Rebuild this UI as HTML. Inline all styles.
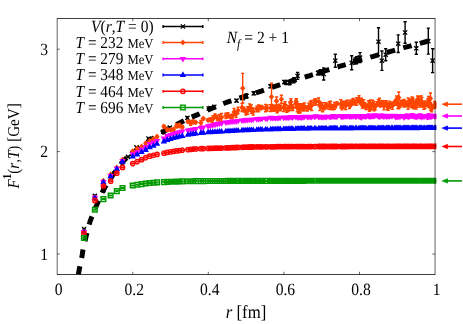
<!DOCTYPE html>
<html><head><meta charset="utf-8"><title>plot</title>
<style>html,body{margin:0;padding:0;background:#fff}svg{display:block;will-change:transform}text{font-family:"Liberation Serif",serif;fill:#000;text-rendering:geometricPrecision}</style>
</head><body>
<svg width="463" height="324" viewBox="0 0 463 324">
<rect width="463" height="324" fill="#fff"/>
<defs><clipPath id="c"><rect x="57.2" y="18.5" width="379.15000000000003" height="256.0"/></clipPath></defs>
<g clip-path="url(#c)">
<path d="M76.9 284 L77.6 279.7 L78.2 275.5 L78.9 271.5 L79.6 267.7 L80.3 264.3 L80.9 261.3 L81.6 258.3 L82.3 254.4 L82.9 250.1 L83.6 246.9 L84.3 244.1 L85 241.3 L85.6 238.4 L86.3 235.5 L87 232.7 L87.7 229.9 L88.3 227.3 L89 224.8 L89.7 222.7 L90.3 220.7 L91 219 L91.7 217.2 L92.4 215.5 L93 213.9 L93.7 212.2 L94.4 210.5 L95 208.9 L95.7 207.3 L96.4 205.8 L97.1 204.2 L97.7 202.6 L98.4 201.1 L99.1 199.6 L99.8 198 L100.4 196.5 L101.1 195 L101.8 193.5 L102.4 192.1 L103.1 190.7 L103.8 189.5 L104.5 188.2 L105.1 187 L105.8 185.9 L106.5 184.7 L107.1 183.6 L107.8 182.5 L108.5 181.5 L109.2 180.4 L109.8 179.4 L110.5 178.4 L111.2 177.4 L111.9 176.4 L112.5 175.4 L113.2 174.5 L113.9 173.5 L114.5 172.6 L115.2 171.7 L115.9 170.7 L116.6 169.8 L117.2 168.9 L117.9 167.9 L118.6 167 L119.2 166.1 L119.9 165.2 L120.6 164.4 L121.3 163.5 L121.9 162.7 L122.6 161.9 L123.3 161.2 L124 160.4 L124.6 159.7 L125.3 159.1 L126 158.5 L126.6 157.9 L127.3 157.4 L128 156.9 L128.7 156.4 L129.3 155.9 L130 155.4 L131 154.6 L134 152.3 L137.1 149.9 L140.1 147.6 L143.1 145.5 L146.2 143.4 L149.2 141.3 L152.2 139.1 L155.2 137 L158.3 134.9 L161.3 133 L164.3 131.1 L167.4 129.3 L170.4 127.6 L173.4 125.9 L176.5 124.4 L179.5 122.9 L182.5 121.4 L185.5 120 L188.6 118.6 L191.6 117.2 L194.6 115.9 L197.7 114.6 L200.7 113.2 L203.7 111.9 L206.8 110.6 L209.8 109.3 L212.8 108 L215.8 106.7 L218.9 105.4 L221.9 104.2 L224.9 103 L228 101.9 L231 100.8 L234 99.8 L237.1 98.8 L240.1 97.8 L243.1 96.8 L246.2 95.9 L249.2 95 L252.2 94 L255.2 93.1 L258.3 92.1 L261.3 91.1 L264.3 90 L267.4 88.9 L270.4 87.8 L273.4 86.8 L276.5 85.8 L279.5 84.8 L282.5 83.8 L285.5 82.9 L288.6 82 L291.6 81 L294.6 80.1 L297.7 79.2 L300.7 78.3 L303.7 77.4 L306.8 76.5 L309.8 75.6 L312.8 74.6 L315.8 73.7 L318.9 72.7 L321.9 71.8 L324.9 70.9 L328 69.9 L331 69 L334 68 L337.1 67.1 L340.1 66.2 L343.1 65.3 L346.2 64.4 L349.2 63.4 L352.2 62.5 L355.2 61.6 L358.3 60.7 L361.3 59.8 L364.3 58.9 L367.4 58 L370.4 57.1 L373.4 56.3 L376.5 55.4 L379.5 54.5 L382.5 53.7 L385.5 52.8 L388.6 52 L391.6 51.1 L394.6 50.3 L397.7 49.4 L400.7 48.6 L403.7 47.7 L406.8 46.9 L409.8 46.1 L412.8 45.2 L415.8 44.4 L418.9 43.6 L421.9 42.8 L424.9 42 L428 41.2 L431 40.4" fill="none" stroke="#000" stroke-width="5" stroke-dasharray="8.6 8.54" stroke-dashoffset="7.8"/>
<path d="M136.5 146.6V148.2M134.9 146.6h3.2M134.9 148.2h3.2M148.5 137.7V139.3M146.9 137.7h3.2M146.9 139.3h3.2M163.3 130.9V132.5M161.7 130.9h3.2M161.7 132.5h3.2M169.8 126.8V128.4M168.2 126.8h3.2M168.2 128.4h3.2M187.4 116.8V118.8M185.8 116.8h3.2M185.8 118.8h3.2M208.7 107.5V109.5M207.1 107.5h3.2M207.1 109.5h3.2M210.4 107V109M208.8 107h3.2M208.8 109h3.2M214.3 105.7V107.7M212.7 105.7h3.2M212.7 107.7h3.2M236.5 99.4V101.8M234.9 99.4h3.2M234.9 101.8h3.2M243 96.5V99.5M241.4 96.5h3.2M241.4 99.5h3.2M245.5 95V98M243.9 95h3.2M243.9 98h3.2M246.5 94V98M244.9 94h3.2M244.9 98h3.2M253.7 91.8V94.8M252.1 91.8h3.2M252.1 94.8h3.2M270.5 84.8V87.8M268.9 84.8h3.2M268.9 87.8h3.2M284.3 80.5V83.5M282.7 80.5h3.2M282.7 83.5h3.2M286 80.5V84.5M284.4 80.5h3.2M284.4 84.5h3.2M289.5 80.8V84.8M287.9 80.8h3.2M287.9 84.8h3.2M293.8 77.7V82.7M292.2 77.7h3.2M292.2 82.7h3.2M297.6 72.4V79.4M296 72.4h3.2M296 79.4h3.2M318 71V75M316.4 71h3.2M316.4 75h3.2M320.3 69.8V74.8M318.7 69.8h3.2M318.7 74.8h3.2M322 70V74M320.4 70h3.2M320.4 74h3.2M323.7 68V80M322.1 68h3.2M322.1 80h3.2M335.3 54.2V67.2M333.7 54.2h3.2M333.7 67.2h3.2M351.7 55.8V69.8M350.1 55.8h3.2M350.1 69.8h3.2M355 58V64M353.4 58h3.2M353.4 64h3.2M356.5 56.7V63.7M354.9 56.7h3.2M354.9 63.7h3.2M358 56.5V62.5M356.4 56.5h3.2M356.4 62.5h3.2M360 52.6V62.6M358.4 52.6h3.2M358.4 62.6h3.2M378.5 27.7V55.7M376.9 27.7h3.2M376.9 55.7h3.2M381.9 51V70.4M380.3 51h3.2M380.3 70.4h3.2M385.7 48.7V60.7M384.1 48.7h3.2M384.1 60.7h3.2M398.2 34.9V52.5M396.6 34.9h3.2M396.6 52.5h3.2M405.1 21.7V43.3M403.5 21.7h3.2M403.5 43.3h3.2M416.3 42.3V54.3M414.7 42.3h3.2M414.7 54.3h3.2M428.3 28.1V54.1M426.7 28.1h3.2M426.7 54.1h3.2M432.6 48.6V72.6M431 48.6h3.2M431 72.6h3.2M84.1 228.5V229.5M82.5 228.5h3.2M82.5 229.5h3.2M94.8 195.3V196.3M93.2 195.3h3.2M93.2 196.3h3.2M103.4 189.7V190.7M101.8 189.7h3.2M101.8 190.7h3.2M110.8 177.5V178.5M109.2 177.5h3.2M109.2 178.5h3.2M117 168.7V169.7M115.4 168.7h3.2M115.4 169.7h3.2M122.4 161.7V162.7M120.8 161.7h3.2M120.8 162.7h3.2M128 156.4V157.4M126.4 156.4h3.2M126.4 157.4h3.2M132.3 153.1V154.1M130.7 153.1h3.2M130.7 154.1h3.2" fill="none" stroke="#000" stroke-width="1.4"/>
<path d="M134.4 145.3l4.2 4.2M134.4 149.5l4.2 -4.2M146.4 136.4l4.2 4.2M146.4 140.6l4.2 -4.2M161.2 129.6l4.2 4.2M161.2 133.8l4.2 -4.2M167.7 125.5l4.2 4.2M167.7 129.7l4.2 -4.2M185.3 115.7l4.2 4.2M185.3 119.9l4.2 -4.2M206.6 106.4l4.2 4.2M206.6 110.6l4.2 -4.2M208.3 105.9l4.2 4.2M208.3 110.1l4.2 -4.2M212.2 104.6l4.2 4.2M212.2 108.8l4.2 -4.2M234.4 98.5l4.2 4.2M234.4 102.7l4.2 -4.2M240.9 95.9l4.2 4.2M240.9 100.1l4.2 -4.2M243.4 94.4l4.2 4.2M243.4 98.6l4.2 -4.2M244.4 93.9l4.2 4.2M244.4 98.1l4.2 -4.2M251.6 91.2l4.2 4.2M251.6 95.4l4.2 -4.2M268.4 84.2l4.2 4.2M268.4 88.4l4.2 -4.2M282.2 79.9l4.2 4.2M282.2 84.1l4.2 -4.2M283.9 80.4l4.2 4.2M283.9 84.6l4.2 -4.2M287.4 80.7l4.2 4.2M287.4 84.9l4.2 -4.2M291.7 78.1l4.2 4.2M291.7 82.3l4.2 -4.2M295.5 73.8l4.2 4.2M295.5 78l4.2 -4.2M315.9 70.9l4.2 4.2M315.9 75.1l4.2 -4.2M318.2 70.2l4.2 4.2M318.2 74.4l4.2 -4.2M319.9 69.9l4.2 4.2M319.9 74.1l4.2 -4.2M321.6 71.9l4.2 4.2M321.6 76.1l4.2 -4.2M333.2 58.6l4.2 4.2M333.2 62.8l4.2 -4.2M349.6 60.7l4.2 4.2M349.6 64.9l4.2 -4.2M352.9 58.9l4.2 4.2M352.9 63.1l4.2 -4.2M354.4 58.1l4.2 4.2M354.4 62.3l4.2 -4.2M355.9 57.4l4.2 4.2M355.9 61.6l4.2 -4.2M357.9 55.5l4.2 4.2M357.9 59.7l4.2 -4.2M376.4 39.6l4.2 4.2M376.4 43.8l4.2 -4.2M379.8 58.6l4.2 4.2M379.8 62.8l4.2 -4.2M383.6 52.6l4.2 4.2M383.6 56.8l4.2 -4.2M396.1 41.6l4.2 4.2M396.1 45.8l4.2 -4.2M403 30.4l4.2 4.2M403 34.6l4.2 -4.2M414.2 46.2l4.2 4.2M414.2 50.4l4.2 -4.2M426.2 39l4.2 4.2M426.2 43.2l4.2 -4.2M430.5 58.5l4.2 4.2M430.5 62.7l4.2 -4.2M82 226.9l4.2 4.2M82 231.1l4.2 -4.2M92.7 193.7l4.2 4.2M92.7 197.9l4.2 -4.2M101.3 188.1l4.2 4.2M101.3 192.3l4.2 -4.2M108.7 175.9l4.2 4.2M108.7 180.1l4.2 -4.2M114.9 167.1l4.2 4.2M114.9 171.3l4.2 -4.2M120.3 160.1l4.2 4.2M120.3 164.3l4.2 -4.2M125.9 154.8l4.2 4.2M125.9 159l4.2 -4.2M130.2 151.5l4.2 4.2M130.2 155.7l4.2 -4.2" fill="none" stroke="#000" stroke-width="1.3"/>
<path d="M83.9 230.9V232.1M82.3 230.9h3.2M82.3 232.1h3.2M94.9 196.6V197.8M93.3 196.6h3.2M93.3 197.8h3.2M103.4 180.1V181.3M101.8 180.1h3.2M101.8 181.3h3.2M110.6 174V175.1M109 174h3.2M109 175.1h3.2M116.8 166.7V168M115.2 166.7h3.2M115.2 168h3.2M122.5 159.3V160.2M120.9 159.3h3.2M120.9 160.2h3.2M132.7 150.5V151.7M131.1 150.5h3.2M131.1 151.7h3.2M137.2 147.8V149.1M135.6 147.8h3.2M135.6 149.1h3.2M141.6 145.9V147.1M140 145.9h3.2M140 147.1h3.2M145.7 142.5V144M144.1 142.5h3.2M144.1 144h3.2M149.6 140.3V141.6M148 140.3h3.2M148 141.6h3.2M153.4 138.2V139.9M151.8 138.2h3.2M151.8 139.9h3.2M157 135.5V137.8M155.4 135.5h3.2M155.4 137.8h3.2M163.9 125.2V127.8M162.3 125.2h3.2M162.3 127.8h3.2M167.2 128.4V131M165.6 128.4h3.2M165.6 131h3.2M170.4 129.1V130.7M168.8 129.1h3.2M168.8 130.7h3.2M173.5 127.9V131.1M171.9 127.9h3.2M171.9 131.1h3.2M176.5 123.9V127.9M174.9 123.9h3.2M174.9 127.9h3.2M179.4 123.5V127.5M177.8 123.5h3.2M177.8 127.5h3.2M182.3 125.4V128.9M180.7 125.4h3.2M180.7 128.9h3.2M187.9 120.7V122.6M186.3 120.7h3.2M186.3 122.6h3.2M190.6 120.5V125.3M189 120.5h3.2M189 125.3h3.2M193.2 120V123.7M191.6 120h3.2M191.6 123.7h3.2M195.8 121.8V122.8M194.2 121.8h3.2M194.2 122.8h3.2M200.9 120.4V125.1M199.3 120.4h3.2M199.3 125.1h3.2M203.3 117.5V119.8M201.7 117.5h3.2M201.7 119.8h3.2M208.1 118.8V121.5M206.5 118.8h3.2M206.5 121.5h3.2M210.4 117.9V121.6M208.8 117.9h3.2M208.8 121.6h3.2M212.7 115.9V122.7M211.1 115.9h3.2M211.1 122.7h3.2M215 113.9V118.3M213.4 113.9h3.2M213.4 118.3h3.2M217.3 115.4V120.9M215.7 115.4h3.2M215.7 120.9h3.2M219.5 114.5V122.5M217.9 114.5h3.2M217.9 122.5h3.2M221.6 113.4V121.3M220 113.4h3.2M220 121.3h3.2M225.9 113.2V118.5M224.3 113.2h3.2M224.3 118.5h3.2M228 112.6V117.7M226.4 112.6h3.2M226.4 117.7h3.2M230.1 114.7V118.1M228.5 114.7h3.2M228.5 118.1h3.2M232.1 114.3V118.8M230.5 114.3h3.2M230.5 118.8h3.2M234.1 108.5V115.2M232.5 108.5h3.2M232.5 115.2h3.2M236.1 110.7V117.5M234.5 110.7h3.2M234.5 117.5h3.2M238.1 107.1V113.5M236.5 107.1h3.2M236.5 113.5h3.2M242 103.4V111.6M240.4 103.4h3.2M240.4 111.6h3.2M243.9 107.2V111.8M242.3 107.2h3.2M242.3 111.8h3.2M245.8 109V115.1M244.2 109h3.2M244.2 115.1h3.2M247.7 106.7V114.4M246.1 106.7h3.2M246.1 114.4h3.2M249.6 103.9V111.3M248 103.9h3.2M248 111.3h3.2M251.4 104.9V113.3M249.8 104.9h3.2M249.8 113.3h3.2M253.2 108V115M251.6 108h3.2M251.6 115h3.2M256.8 106.1V111.7M255.2 106.1h3.2M255.2 111.7h3.2M258.6 104.9V111.9M257 104.9h3.2M257 111.9h3.2M260.4 105.5V109.7M258.8 105.5h3.2M258.8 109.7h3.2M262.1 106.1V109M260.5 106.1h3.2M260.5 109h3.2M265.5 104.4V111.8M263.9 104.4h3.2M263.9 111.8h3.2M267.2 104.9V111M265.6 104.9h3.2M265.6 111h3.2M270.6 104.7V111.5M269 104.7h3.2M269 111.5h3.2M272.3 105V107.8M270.7 105h3.2M270.7 107.8h3.2M273.9 106V111.4M272.3 106h3.2M272.3 111.4h3.2M275.6 105.2V110.2M274 105.2h3.2M274 110.2h3.2M277.2 108.3V112.8M275.6 108.3h3.2M275.6 112.8h3.2M278.8 105V106.7M277.2 105h3.2M277.2 106.7h3.2M280.4 105.2V110.8M278.8 105.2h3.2M278.8 110.8h3.2M283.6 103.5V111.5M282 103.5h3.2M282 111.5h3.2M285.1 101.7V108.6M283.5 101.7h3.2M283.5 108.6h3.2M286.7 107.4V112.4M285.1 107.4h3.2M285.1 112.4h3.2M288.2 105.4V111.6M286.6 105.4h3.2M286.6 111.6h3.2M289.8 102.7V110.5M288.2 102.7h3.2M288.2 110.5h3.2M291.3 106.9V107.6M289.7 106.9h3.2M289.7 107.6h3.2M292.8 104.6V110.6M291.2 104.6h3.2M291.2 110.6h3.2M295.8 100V107.2M294.2 100h3.2M294.2 107.2h3.2M297.3 104.1V111.7M295.7 104.1h3.2M295.7 111.7h3.2M298.8 103.7V113.3M297.2 103.7h3.2M297.2 113.3h3.2M300.2 104.3V112.8M298.6 104.3h3.2M298.6 112.8h3.2M301.7 103.8V110.6M300.1 103.8h3.2M300.1 110.6h3.2M303.1 104.3V111.1M301.5 104.3h3.2M301.5 111.1h3.2M304.6 102.9V110.7M303 102.9h3.2M303 110.7h3.2M307.4 105.9V111M305.8 105.9h3.2M305.8 111h3.2M308.9 103.3V109.4M307.3 103.3h3.2M307.3 109.4h3.2M310.3 101.2V109.2M308.7 101.2h3.2M308.7 109.2h3.2M311.7 100.4V110.5M310.1 100.4h3.2M310.1 110.5h3.2M314.5 99.3V105.2M312.9 99.3h3.2M312.9 105.2h3.2M315.8 98.6V104.7M314.2 98.6h3.2M314.2 104.7h3.2M318.6 98V104.6M317 98h3.2M317 104.6h3.2M319.9 101.6V110.5M318.3 101.6h3.2M318.3 110.5h3.2M321.3 102.6V108.8M319.7 102.6h3.2M319.7 108.8h3.2M322.6 102.6V111.7M321 102.6h3.2M321 111.7h3.2M324 105.6V109.9M322.4 105.6h3.2M322.4 109.9h3.2M325.3 102.8V108.6M323.7 102.8h3.2M323.7 108.6h3.2M326.6 103.1V108.9M325 103.1h3.2M325 108.9h3.2M329.2 101.6V109.4M327.6 101.6h3.2M327.6 109.4h3.2M330.5 101.2V109.5M328.9 101.2h3.2M328.9 109.5h3.2M331.8 104.8V107.9M330.2 104.8h3.2M330.2 107.9h3.2M333.1 105.4V109.8M331.5 105.4h3.2M331.5 109.8h3.2M334.4 102.5V109.4M332.8 102.5h3.2M332.8 109.4h3.2M335.7 102.9V107.8M334.1 102.9h3.2M334.1 107.8h3.2M337 102V105.2M335.4 102h3.2M335.4 105.2h3.2M340.8 99.7V108M339.2 99.7h3.2M339.2 108h3.2M342 102.7V109.9M340.4 102.7h3.2M340.4 109.9h3.2M343.3 101.2V108.4M341.7 101.2h3.2M341.7 108.4h3.2M344.5 101.5V106.7M342.9 101.5h3.2M342.9 106.7h3.2M345.7 101.3V109.6M344.1 101.3h3.2M344.1 109.6h3.2M347 100.2V106M345.4 100.2h3.2M345.4 106h3.2M349.4 100.1V108.5M347.8 100.1h3.2M347.8 108.5h3.2M350.6 102.5V106.9M349 102.5h3.2M349 106.9h3.2M351.8 100V104.4M350.2 100h3.2M350.2 104.4h3.2M353.1 98.5V105.1M351.5 98.5h3.2M351.5 105.1h3.2M355.4 100V104.8M353.8 100h3.2M353.8 104.8h3.2M356.6 97.7V105.2M355 97.7h3.2M355 105.2h3.2M359 95.8V102.5M357.4 95.8h3.2M357.4 102.5h3.2M360.2 99.6V104M358.6 99.6h3.2M358.6 104h3.2M361.4 98.2V104.6M359.8 98.2h3.2M359.8 104.6h3.2M362.5 102.7V108.2M360.9 102.7h3.2M360.9 108.2h3.2M363.7 99.7V107.8M362.1 99.7h3.2M362.1 107.8h3.2M364.8 102.8V107.8M363.2 102.8h3.2M363.2 107.8h3.2M366 104.2V109.5M364.4 104.2h3.2M364.4 109.5h3.2M368.3 100.9V109.5M366.7 100.9h3.2M366.7 109.5h3.2M369.4 100.6V111.3M367.8 100.6h3.2M367.8 111.3h3.2M370.6 99.9V110.1M369 99.9h3.2M369 110.1h3.2M371.7 103V109.4M370.1 103h3.2M370.1 109.4h3.2M372.8 100.3V106.9M371.2 100.3h3.2M371.2 106.9h3.2M374 101.6V110.9M372.4 101.6h3.2M372.4 110.9h3.2M375.1 104V110M373.5 104h3.2M373.5 110h3.2M377.3 101.7V106M375.7 101.7h3.2M375.7 106h3.2M378.4 99.8V106.2M376.8 99.8h3.2M376.8 106.2h3.2M379.5 98.3V105.4M377.9 98.3h3.2M377.9 105.4h3.2M380.6 102.6V107.1M379 102.6h3.2M379 107.1h3.2M381.7 101.1V104M380.1 101.1h3.2M380.1 104h3.2M382.8 100.9V104.2M381.2 100.9h3.2M381.2 104.2h3.2M383.9 102.4V109.9M382.3 102.4h3.2M382.3 109.9h3.2M386.1 100.6V105.3M384.5 100.6h3.2M384.5 105.3h3.2M387.2 103.5V109.5M385.6 103.5h3.2M385.6 109.5h3.2M388.2 103.7V110.4M386.6 103.7h3.2M386.6 110.4h3.2M389.3 101.1V108.5M387.7 101.1h3.2M387.7 108.5h3.2M391.5 102V107.5M389.9 102h3.2M389.9 107.5h3.2M392.5 102.2V109.4M390.9 102.2h3.2M390.9 109.4h3.2M394.6 100.9V105.3M393 100.9h3.2M393 105.3h3.2M395.7 99.7V105.1M394.1 99.7h3.2M394.1 105.1h3.2M396.7 99.9V104.1M395.1 99.9h3.2M395.1 104.1h3.2M397.8 100.2V108.6M396.2 100.2h3.2M396.2 108.6h3.2M398.8 102.6V108.8M397.2 102.6h3.2M397.2 108.8h3.2M399.9 102.6V107.4M398.3 102.6h3.2M398.3 107.4h3.2M400.9 100.2V105.7M399.3 100.2h3.2M399.3 105.7h3.2M403 100.1V105.8M401.4 100.1h3.2M401.4 105.8h3.2M404 99.5V107.1M402.4 99.5h3.2M402.4 107.1h3.2M405 103V106M403.4 103h3.2M403.4 106h3.2M406 100.9V105M404.4 100.9h3.2M404.4 105h3.2M407.1 101.3V106.7M405.5 101.3h3.2M405.5 106.7h3.2M408.1 98V109.2M406.5 98h3.2M406.5 109.2h3.2M409.1 99V107.1M407.5 99h3.2M407.5 107.1h3.2M411.1 100.5V106.4M409.5 100.5h3.2M409.5 106.4h3.2M412.1 100V107.6M410.5 100h3.2M410.5 107.6h3.2M413.1 98.3V108.6M411.5 98.3h3.2M411.5 108.6h3.2M414.1 101.8V107.5M412.5 101.8h3.2M412.5 107.5h3.2M415.1 103.5V109M413.5 103.5h3.2M413.5 109h3.2M416.1 100.3V109M414.5 100.3h3.2M414.5 109h3.2M417.1 100V107.2M415.5 100h3.2M415.5 107.2h3.2M419.1 96.8V104.3M417.5 96.8h3.2M417.5 104.3h3.2M420 101.8V107M418.4 101.8h3.2M418.4 107h3.2M421 95.8V105.8M419.4 95.8h3.2M419.4 105.8h3.2M422 97.4V107M420.4 97.4h3.2M420.4 107h3.2M423.9 102.1V109.4M422.3 102.1h3.2M422.3 109.4h3.2M424.9 100.9V108.5M423.3 100.9h3.2M423.3 108.5h3.2M426.8 103.6V105.7M425.2 103.6h3.2M425.2 105.7h3.2M427.8 98.9V106.3M426.2 98.9h3.2M426.2 106.3h3.2M428.8 101.6V107.4M427.2 101.6h3.2M427.2 107.4h3.2M429.7 100.8V107.9M428.1 100.8h3.2M428.1 107.9h3.2M430.7 102.8V110.4M429.1 102.8h3.2M429.1 110.4h3.2M431.6 106.1V111.7M430 106.1h3.2M430 111.7h3.2M432.6 105.1V108M431 105.1h3.2M431 108h3.2M434.5 101.5V108.4M432.9 101.5h3.2M432.9 108.4h3.2M435.4 102.1V106.8M433.8 102.1h3.2M433.8 106.8h3.2M436.3 102.4V107.9M434.7 102.4h3.2M434.7 107.9h3.2M398.7 92V103M397.1 92h3.2M397.1 103h3.2M396.5 96V103M394.9 96h3.2M394.9 103h3.2M430.5 93V104M428.9 93h3.2M428.9 104h3.2M428.5 96.5V104.5M426.9 96.5h3.2M426.9 104.5h3.2M417.5 96V103M415.9 96h3.2M415.9 103h3.2M412 97V103M410.4 97h3.2M410.4 103h3.2M242.7 73.4V103M241.1 73.4h3.2M241.1 103h3.2M271.5 83.3V110.3M269.9 83.3h3.2M269.9 110.3h3.2M276.5 97V105M274.9 97h3.2M274.9 105h3.2M281.4 95.2V103.2M279.8 95.2h3.2M279.8 103.2h3.2M290.9 98.8V104.8M289.3 98.8h3.2M289.3 104.8h3.2M296.4 98.8V104.8M294.8 98.8h3.2M294.8 104.8h3.2" fill="none" stroke="#ff4500" stroke-width="1.4"/>
<path d="M83.9 228.6l2.7 2.9l-2.7 2.9l-2.7 -2.9zM94.9 194.3l2.7 2.9l-2.7 2.9l-2.7 -2.9zM103.4 177.8l2.7 2.9l-2.7 2.9l-2.7 -2.9zM110.6 171.6l2.7 2.9l-2.7 2.9l-2.7 -2.9zM116.8 164.5l2.7 2.9l-2.7 2.9l-2.7 -2.9zM122.5 156.8l2.7 2.9l-2.7 2.9l-2.7 -2.9zM132.7 148.2l2.7 2.9l-2.7 2.9l-2.7 -2.9zM137.2 145.6l2.7 2.9l-2.7 2.9l-2.7 -2.9zM141.6 143.6l2.7 2.9l-2.7 2.9l-2.7 -2.9zM145.7 140.3l2.7 2.9l-2.7 2.9l-2.7 -2.9zM149.6 138l2.7 2.9l-2.7 2.9l-2.7 -2.9zM153.4 136.1l2.7 2.9l-2.7 2.9l-2.7 -2.9zM157 133.8l2.7 2.9l-2.7 2.9l-2.7 -2.9zM163.9 123.6l2.7 2.9l-2.7 2.9l-2.7 -2.9zM167.2 126.8l2.7 2.9l-2.7 2.9l-2.7 -2.9zM170.4 127l2.7 2.9l-2.7 2.9l-2.7 -2.9zM173.5 126.6l2.7 2.9l-2.7 2.9l-2.7 -2.9zM176.5 123l2.7 2.9l-2.7 2.9l-2.7 -2.9zM179.4 122.6l2.7 2.9l-2.7 2.9l-2.7 -2.9zM182.3 124.2l2.7 2.9l-2.7 2.9l-2.7 -2.9zM187.9 118.8l2.7 2.9l-2.7 2.9l-2.7 -2.9zM190.6 120l2.7 2.9l-2.7 2.9l-2.7 -2.9zM193.2 119l2.7 2.9l-2.7 2.9l-2.7 -2.9zM195.8 119.4l2.7 2.9l-2.7 2.9l-2.7 -2.9zM200.9 119.8l2.7 2.9l-2.7 2.9l-2.7 -2.9zM203.3 115.7l2.7 2.9l-2.7 2.9l-2.7 -2.9zM208.1 117.2l2.7 2.9l-2.7 2.9l-2.7 -2.9zM210.4 116.8l2.7 2.9l-2.7 2.9l-2.7 -2.9zM212.7 116.4l2.7 2.9l-2.7 2.9l-2.7 -2.9zM215 113.2l2.7 2.9l-2.7 2.9l-2.7 -2.9zM217.3 115.3l2.7 2.9l-2.7 2.9l-2.7 -2.9zM219.5 115.6l2.7 2.9l-2.7 2.9l-2.7 -2.9zM221.6 114.4l2.7 2.9l-2.7 2.9l-2.7 -2.9zM225.9 112.9l2.7 2.9l-2.7 2.9l-2.7 -2.9zM228 112.3l2.7 2.9l-2.7 2.9l-2.7 -2.9zM230.1 113.5l2.7 2.9l-2.7 2.9l-2.7 -2.9zM232.1 113.6l2.7 2.9l-2.7 2.9l-2.7 -2.9zM234.1 109l2.7 2.9l-2.7 2.9l-2.7 -2.9zM236.1 111.2l2.7 2.9l-2.7 2.9l-2.7 -2.9zM238.1 107.4l2.7 2.9l-2.7 2.9l-2.7 -2.9zM242 104.6l2.7 2.9l-2.7 2.9l-2.7 -2.9zM243.9 106.6l2.7 2.9l-2.7 2.9l-2.7 -2.9zM245.8 109.1l2.7 2.9l-2.7 2.9l-2.7 -2.9zM247.7 107.6l2.7 2.9l-2.7 2.9l-2.7 -2.9zM249.6 104.7l2.7 2.9l-2.7 2.9l-2.7 -2.9zM251.4 106.2l2.7 2.9l-2.7 2.9l-2.7 -2.9zM253.2 108.6l2.7 2.9l-2.7 2.9l-2.7 -2.9zM256.8 106l2.7 2.9l-2.7 2.9l-2.7 -2.9zM258.6 105.5l2.7 2.9l-2.7 2.9l-2.7 -2.9zM260.4 104.7l2.7 2.9l-2.7 2.9l-2.7 -2.9zM262.1 104.6l2.7 2.9l-2.7 2.9l-2.7 -2.9zM265.5 105.2l2.7 2.9l-2.7 2.9l-2.7 -2.9zM267.2 105l2.7 2.9l-2.7 2.9l-2.7 -2.9zM270.6 105.2l2.7 2.9l-2.7 2.9l-2.7 -2.9zM272.3 103.5l2.7 2.9l-2.7 2.9l-2.7 -2.9zM273.9 105.8l2.7 2.9l-2.7 2.9l-2.7 -2.9zM275.6 104.8l2.7 2.9l-2.7 2.9l-2.7 -2.9zM277.2 107.6l2.7 2.9l-2.7 2.9l-2.7 -2.9zM278.8 102.9l2.7 2.9l-2.7 2.9l-2.7 -2.9zM280.4 105.1l2.7 2.9l-2.7 2.9l-2.7 -2.9zM283.6 104.6l2.7 2.9l-2.7 2.9l-2.7 -2.9zM285.1 102.2l2.7 2.9l-2.7 2.9l-2.7 -2.9zM286.7 107l2.7 2.9l-2.7 2.9l-2.7 -2.9zM288.2 105.6l2.7 2.9l-2.7 2.9l-2.7 -2.9zM289.8 103.7l2.7 2.9l-2.7 2.9l-2.7 -2.9zM291.3 104.3l2.7 2.9l-2.7 2.9l-2.7 -2.9zM292.8 104.7l2.7 2.9l-2.7 2.9l-2.7 -2.9zM295.8 100.7l2.7 2.9l-2.7 2.9l-2.7 -2.9zM297.3 105l2.7 2.9l-2.7 2.9l-2.7 -2.9zM298.8 105.6l2.7 2.9l-2.7 2.9l-2.7 -2.9zM300.2 105.6l2.7 2.9l-2.7 2.9l-2.7 -2.9zM301.7 104.3l2.7 2.9l-2.7 2.9l-2.7 -2.9zM303.1 104.8l2.7 2.9l-2.7 2.9l-2.7 -2.9zM304.6 103.9l2.7 2.9l-2.7 2.9l-2.7 -2.9zM307.4 105.5l2.7 2.9l-2.7 2.9l-2.7 -2.9zM308.9 103.4l2.7 2.9l-2.7 2.9l-2.7 -2.9zM310.3 102.3l2.7 2.9l-2.7 2.9l-2.7 -2.9zM311.7 102.5l2.7 2.9l-2.7 2.9l-2.7 -2.9zM314.5 99.4l2.7 2.9l-2.7 2.9l-2.7 -2.9zM315.8 98.7l2.7 2.9l-2.7 2.9l-2.7 -2.9zM318.6 98.4l2.7 2.9l-2.7 2.9l-2.7 -2.9zM319.9 103.1l2.7 2.9l-2.7 2.9l-2.7 -2.9zM321.3 102.8l2.7 2.9l-2.7 2.9l-2.7 -2.9zM322.6 104.3l2.7 2.9l-2.7 2.9l-2.7 -2.9zM324 104.8l2.7 2.9l-2.7 2.9l-2.7 -2.9zM325.3 102.8l2.7 2.9l-2.7 2.9l-2.7 -2.9zM326.6 103.1l2.7 2.9l-2.7 2.9l-2.7 -2.9zM329.2 102.6l2.7 2.9l-2.7 2.9l-2.7 -2.9zM330.5 102.4l2.7 2.9l-2.7 2.9l-2.7 -2.9zM331.8 103.4l2.7 2.9l-2.7 2.9l-2.7 -2.9zM333.1 104.7l2.7 2.9l-2.7 2.9l-2.7 -2.9zM334.4 103.1l2.7 2.9l-2.7 2.9l-2.7 -2.9zM335.7 102.4l2.7 2.9l-2.7 2.9l-2.7 -2.9zM337 100.7l2.7 2.9l-2.7 2.9l-2.7 -2.9zM340.8 101l2.7 2.9l-2.7 2.9l-2.7 -2.9zM342 103.4l2.7 2.9l-2.7 2.9l-2.7 -2.9zM343.3 101.9l2.7 2.9l-2.7 2.9l-2.7 -2.9zM344.5 101.2l2.7 2.9l-2.7 2.9l-2.7 -2.9zM345.7 102.6l2.7 2.9l-2.7 2.9l-2.7 -2.9zM347 100.2l2.7 2.9l-2.7 2.9l-2.7 -2.9zM349.4 101.4l2.7 2.9l-2.7 2.9l-2.7 -2.9zM350.6 101.8l2.7 2.9l-2.7 2.9l-2.7 -2.9zM351.8 99.3l2.7 2.9l-2.7 2.9l-2.7 -2.9zM353.1 98.9l2.7 2.9l-2.7 2.9l-2.7 -2.9zM355.4 99.5l2.7 2.9l-2.7 2.9l-2.7 -2.9zM356.6 98.6l2.7 2.9l-2.7 2.9l-2.7 -2.9zM359 96.2l2.7 2.9l-2.7 2.9l-2.7 -2.9zM360.2 98.9l2.7 2.9l-2.7 2.9l-2.7 -2.9zM361.4 98.5l2.7 2.9l-2.7 2.9l-2.7 -2.9zM362.5 102.6l2.7 2.9l-2.7 2.9l-2.7 -2.9zM363.7 100.9l2.7 2.9l-2.7 2.9l-2.7 -2.9zM364.8 102.4l2.7 2.9l-2.7 2.9l-2.7 -2.9zM366 104l2.7 2.9l-2.7 2.9l-2.7 -2.9zM368.3 102.3l2.7 2.9l-2.7 2.9l-2.7 -2.9zM369.4 103.1l2.7 2.9l-2.7 2.9l-2.7 -2.9zM370.6 102.1l2.7 2.9l-2.7 2.9l-2.7 -2.9zM371.7 103.3l2.7 2.9l-2.7 2.9l-2.7 -2.9zM372.8 100.7l2.7 2.9l-2.7 2.9l-2.7 -2.9zM374 103.4l2.7 2.9l-2.7 2.9l-2.7 -2.9zM375.1 104.1l2.7 2.9l-2.7 2.9l-2.7 -2.9zM377.3 101l2.7 2.9l-2.7 2.9l-2.7 -2.9zM378.4 100.1l2.7 2.9l-2.7 2.9l-2.7 -2.9zM379.5 99l2.7 2.9l-2.7 2.9l-2.7 -2.9zM380.6 102l2.7 2.9l-2.7 2.9l-2.7 -2.9zM381.7 99.7l2.7 2.9l-2.7 2.9l-2.7 -2.9zM382.8 99.6l2.7 2.9l-2.7 2.9l-2.7 -2.9zM383.9 103.2l2.7 2.9l-2.7 2.9l-2.7 -2.9zM386.1 100l2.7 2.9l-2.7 2.9l-2.7 -2.9zM387.2 103.6l2.7 2.9l-2.7 2.9l-2.7 -2.9zM388.2 104.2l2.7 2.9l-2.7 2.9l-2.7 -2.9zM389.3 101.9l2.7 2.9l-2.7 2.9l-2.7 -2.9zM391.5 101.9l2.7 2.9l-2.7 2.9l-2.7 -2.9zM392.5 102.9l2.7 2.9l-2.7 2.9l-2.7 -2.9zM394.6 100.2l2.7 2.9l-2.7 2.9l-2.7 -2.9zM395.7 99.5l2.7 2.9l-2.7 2.9l-2.7 -2.9zM396.7 99.1l2.7 2.9l-2.7 2.9l-2.7 -2.9zM397.8 101.5l2.7 2.9l-2.7 2.9l-2.7 -2.9zM398.8 102.8l2.7 2.9l-2.7 2.9l-2.7 -2.9zM399.9 102.1l2.7 2.9l-2.7 2.9l-2.7 -2.9zM400.9 100.1l2.7 2.9l-2.7 2.9l-2.7 -2.9zM403 100.1l2.7 2.9l-2.7 2.9l-2.7 -2.9zM404 100.4l2.7 2.9l-2.7 2.9l-2.7 -2.9zM405 101.6l2.7 2.9l-2.7 2.9l-2.7 -2.9zM406 100.1l2.7 2.9l-2.7 2.9l-2.7 -2.9zM407.1 101.1l2.7 2.9l-2.7 2.9l-2.7 -2.9zM408.1 100.7l2.7 2.9l-2.7 2.9l-2.7 -2.9zM409.1 100.1l2.7 2.9l-2.7 2.9l-2.7 -2.9zM411.1 100.5l2.7 2.9l-2.7 2.9l-2.7 -2.9zM412.1 100.9l2.7 2.9l-2.7 2.9l-2.7 -2.9zM413.1 100.6l2.7 2.9l-2.7 2.9l-2.7 -2.9zM414.1 101.8l2.7 2.9l-2.7 2.9l-2.7 -2.9zM415.1 103.4l2.7 2.9l-2.7 2.9l-2.7 -2.9zM416.1 101.7l2.7 2.9l-2.7 2.9l-2.7 -2.9zM417.1 100.7l2.7 2.9l-2.7 2.9l-2.7 -2.9zM419.1 97.7l2.7 2.9l-2.7 2.9l-2.7 -2.9zM420 101.5l2.7 2.9l-2.7 2.9l-2.7 -2.9zM421 97.9l2.7 2.9l-2.7 2.9l-2.7 -2.9zM422 99.3l2.7 2.9l-2.7 2.9l-2.7 -2.9zM423.9 102.9l2.7 2.9l-2.7 2.9l-2.7 -2.9zM424.9 101.8l2.7 2.9l-2.7 2.9l-2.7 -2.9zM426.8 101.7l2.7 2.9l-2.7 2.9l-2.7 -2.9zM427.8 99.7l2.7 2.9l-2.7 2.9l-2.7 -2.9zM428.8 101.6l2.7 2.9l-2.7 2.9l-2.7 -2.9zM429.7 101.4l2.7 2.9l-2.7 2.9l-2.7 -2.9zM430.7 103.7l2.7 2.9l-2.7 2.9l-2.7 -2.9zM431.6 106l2.7 2.9l-2.7 2.9l-2.7 -2.9zM432.6 103.6l2.7 2.9l-2.7 2.9l-2.7 -2.9zM434.5 102l2.7 2.9l-2.7 2.9l-2.7 -2.9zM435.4 101.6l2.7 2.9l-2.7 2.9l-2.7 -2.9zM436.3 102.3l2.7 2.9l-2.7 2.9l-2.7 -2.9zM398.7 94.6l2.7 2.9l-2.7 2.9l-2.7 -2.9zM396.5 96.6l2.7 2.9l-2.7 2.9l-2.7 -2.9zM430.5 95.6l2.7 2.9l-2.7 2.9l-2.7 -2.9zM428.5 97.6l2.7 2.9l-2.7 2.9l-2.7 -2.9zM417.5 96.6l2.7 2.9l-2.7 2.9l-2.7 -2.9zM412 97.1l2.7 2.9l-2.7 2.9l-2.7 -2.9zM242.7 85.3l2.7 2.9l-2.7 2.9l-2.7 -2.9zM271.5 93.9l2.7 2.9l-2.7 2.9l-2.7 -2.9zM276.5 98.1l2.7 2.9l-2.7 2.9l-2.7 -2.9zM281.4 96.3l2.7 2.9l-2.7 2.9l-2.7 -2.9zM290.9 98.9l2.7 2.9l-2.7 2.9l-2.7 -2.9zM296.4 98.9l2.7 2.9l-2.7 2.9l-2.7 -2.9z" fill="#ff4500" stroke="none"/>
<path d="M83.9 231.5V232.1M82.3 231.5h3.2M82.3 232.1h3.2M94.9 197.4V198M93.3 197.4h3.2M93.3 198h3.2M103.4 181.5V182.1M101.8 181.5h3.2M101.8 182.1h3.2M110.6 175.6V176.2M109 175.6h3.2M109 176.2h3.2M116.8 168.1V168.7M115.2 168.1h3.2M115.2 168.7h3.2M122.5 160.6V161.2M120.9 160.6h3.2M120.9 161.2h3.2M132.7 153.8V154.4M131.1 153.8h3.2M131.1 154.4h3.2M137.2 151.7V152.3M135.6 151.7h3.2M135.6 152.3h3.2M141.6 149.2V149.8M140 149.2h3.2M140 149.8h3.2M145.7 146.5V147.1M144.1 146.5h3.2M144.1 147.1h3.2M149.6 143.7V144.3M148 143.7h3.2M148 144.3h3.2M153.4 142.1V142.7M151.8 142.1h3.2M151.8 142.7h3.2M157 140.6V141.2M155.4 140.6h3.2M155.4 141.2h3.2M163.9 138.2V138.8M162.3 138.2h3.2M162.3 138.8h3.2M167.2 135.7V136.3M165.6 135.7h3.2M165.6 136.3h3.2M170.4 134.6V135.2M168.8 134.6h3.2M168.8 135.2h3.2M173.5 133.6V134.2M171.9 133.6h3.2M171.9 134.2h3.2M176.5 132.7V133.3M174.9 132.7h3.2M174.9 133.3h3.2M179.4 131.8V132.4M177.8 131.8h3.2M177.8 132.4h3.2M182.3 131.1V131.7M180.7 131.1h3.2M180.7 131.7h3.2M187.9 130V130.6M186.3 130h3.2M186.3 130.6h3.2M190.6 129.5V130.1M189 129.5h3.2M189 130.1h3.2M193.2 129V129.6M191.6 129h3.2M191.6 129.6h3.2M195.8 128.5V129.1M194.2 128.5h3.2M194.2 129.1h3.2M200.9 127.5V128.1M199.3 127.5h3.2M199.3 128.1h3.2M203.3 127V127.6M201.7 127h3.2M201.7 127.6h3.2M208.1 125.9V126.5M206.5 125.9h3.2M206.5 126.5h3.2M210.4 125.3V126M208.8 125.3h3.2M208.8 126h3.2M212.7 124.7V125.4M211.1 124.7h3.2M211.1 125.4h3.2M215 124.3V124.9M213.4 124.3h3.2M213.4 124.9h3.2M217.3 123.6V124.5M215.7 123.6h3.2M215.7 124.5h3.2M219.5 123.2V124M217.9 123.2h3.2M217.9 124h3.2M221.6 122.7V123.5M220 122.7h3.2M220 123.5h3.2M225.9 122V122.9M224.3 122h3.2M224.3 122.9h3.2M228 121.6V122.6M226.4 121.6h3.2M226.4 122.6h3.2M230.1 121.4V122.2M228.5 121.4h3.2M228.5 122.2h3.2M232.1 121V121.9M230.5 121h3.2M230.5 121.9h3.2M234.1 120.8V121.7M232.5 120.8h3.2M232.5 121.7h3.2M236.1 120.6V121.8M234.5 120.6h3.2M234.5 121.8h3.2M238.1 120.4V121.2M236.5 120.4h3.2M236.5 121.2h3.2M242 119.7V120.9M240.4 119.7h3.2M240.4 120.9h3.2M243.9 119.7V120.7M242.3 119.7h3.2M242.3 120.7h3.2M245.8 119.6V120.5M244.2 119.6h3.2M244.2 120.5h3.2M247.7 119V120.3M246.1 119h3.2M246.1 120.3h3.2M249.6 119V120.1M248 119h3.2M248 120.1h3.2M251.4 119.1V120M249.8 119.1h3.2M249.8 120h3.2M253.2 118.8V119.9M251.6 118.8h3.2M251.6 119.9h3.2M256.8 118.3V119.7M255.2 118.3h3.2M255.2 119.7h3.2M258.6 118.3V119.8M257 118.3h3.2M257 119.8h3.2M260.4 118.1V119.2M258.8 118.1h3.2M258.8 119.2h3.2M262.1 118V119.3M260.5 118h3.2M260.5 119.3h3.2M265.5 117.6V119M263.9 117.6h3.2M263.9 119h3.2M267.2 117.9V119M265.6 117.9h3.2M265.6 119h3.2M270.6 117V118.4M269 117h3.2M269 118.4h3.2M272.3 117.2V118.5M270.7 117.2h3.2M270.7 118.5h3.2M273.9 117.2V118.4M272.3 117.2h3.2M272.3 118.4h3.2M275.6 117.3V118.5M274 117.3h3.2M274 118.5h3.2M277.2 117.1V118.5M275.6 117.1h3.2M275.6 118.5h3.2M278.8 117.2V118.6M277.2 117.2h3.2M277.2 118.6h3.2M280.4 116.7V117.9M278.8 116.7h3.2M278.8 117.9h3.2M283.6 117V118.3M282 117h3.2M282 118.3h3.2M285.1 116.5V118.3M283.5 116.5h3.2M283.5 118.3h3.2M286.7 116.5V118.1M285.1 116.5h3.2M285.1 118.1h3.2M288.2 116.6V118.4M286.6 116.6h3.2M286.6 118.4h3.2M289.8 116.2V118.1M288.2 116.2h3.2M288.2 118.1h3.2M291.3 116V117.7M289.7 116h3.2M289.7 117.7h3.2M292.8 116V118.4M291.2 116h3.2M291.2 118.4h3.2M295.8 116.2V117.5M294.2 116.2h3.2M294.2 117.5h3.2M297.3 116.1V117.9M295.7 116.1h3.2M295.7 117.9h3.2M298.8 116.5V117.9M297.2 116.5h3.2M297.2 117.9h3.2M300.2 116V118.3M298.6 116h3.2M298.6 118.3h3.2M301.7 116.3V118.6M300.1 116.3h3.2M300.1 118.6h3.2M303.1 116.6V117.4M301.5 116.6h3.2M301.5 117.4h3.2M304.6 116V117.2M303 116h3.2M303 117.2h3.2M307.4 115.8V117.7M305.8 115.8h3.2M305.8 117.7h3.2M308.9 115.7V117.7M307.3 115.7h3.2M307.3 117.7h3.2M310.3 115.6V117.6M308.7 115.6h3.2M308.7 117.6h3.2M311.7 116.1V117.8M310.1 116.1h3.2M310.1 117.8h3.2M314.5 115.6V117.6M312.9 115.6h3.2M312.9 117.6h3.2M315.8 115.2V117.3M314.2 115.2h3.2M314.2 117.3h3.2M318.6 116V117.8M317 116h3.2M317 117.8h3.2M319.9 115.5V117.8M318.3 115.5h3.2M318.3 117.8h3.2M321.3 116.4V117.1M319.7 116.4h3.2M319.7 117.1h3.2M322.6 115.6V117.7M321 115.6h3.2M321 117.7h3.2M324 116.1V117.4M322.4 116.1h3.2M322.4 117.4h3.2M325.3 115.4V117.8M323.7 115.4h3.2M323.7 117.8h3.2M326.6 116V117.8M325 116h3.2M325 117.8h3.2M329.2 115.9V117.4M327.6 115.9h3.2M327.6 117.4h3.2M330.5 115.6V117.7M328.9 115.6h3.2M328.9 117.7h3.2M331.8 115.9V117.3M330.2 115.9h3.2M330.2 117.3h3.2M333.1 115.3V116.8M331.5 115.3h3.2M331.5 116.8h3.2M334.4 115.9V117M332.8 115.9h3.2M332.8 117h3.2M335.7 115.4V117.3M334.1 115.4h3.2M334.1 117.3h3.2M337 115.4V117.6M335.4 115.4h3.2M335.4 117.6h3.2M340.8 114.7V117.3M339.2 114.7h3.2M339.2 117.3h3.2M342 115.9V117.9M340.4 115.9h3.2M340.4 117.9h3.2M343.3 115.1V117.7M341.7 115.1h3.2M341.7 117.7h3.2M344.5 114.9V117M342.9 114.9h3.2M342.9 117h3.2M345.7 114.8V116.8M344.1 114.8h3.2M344.1 116.8h3.2M347 115.1V117.5M345.4 115.1h3.2M345.4 117.5h3.2M349.4 114.9V117.7M347.8 114.9h3.2M347.8 117.7h3.2M350.6 115.1V117M349 115.1h3.2M349 117h3.2M351.8 115.4V117.3M350.2 115.4h3.2M350.2 117.3h3.2M353.1 115.1V117.1M351.5 115.1h3.2M351.5 117.1h3.2M355.4 115.4V117.6M353.8 115.4h3.2M353.8 117.6h3.2M356.6 115.2V116.8M355 115.2h3.2M355 116.8h3.2M359 114.8V117.7M357.4 114.8h3.2M357.4 117.7h3.2M360.2 115.6V117.6M358.6 115.6h3.2M358.6 117.6h3.2M361.4 115.9V118.4M359.8 115.9h3.2M359.8 118.4h3.2M362.5 115V116.7M360.9 115h3.2M360.9 116.7h3.2M363.7 114.8V117.3M362.1 114.8h3.2M362.1 117.3h3.2M364.8 114.7V117.2M363.2 114.7h3.2M363.2 117.2h3.2M366 115.5V117.5M364.4 115.5h3.2M364.4 117.5h3.2M368.3 114V117.6M366.7 114h3.2M366.7 117.6h3.2M369.4 114.8V117.3M367.8 114.8h3.2M367.8 117.3h3.2M370.6 114.4V117.9M369 114.4h3.2M369 117.9h3.2M371.7 114.3V117.3M370.1 114.3h3.2M370.1 117.3h3.2M372.8 114.9V116.8M371.2 114.9h3.2M371.2 116.8h3.2M374 115V117M372.4 115h3.2M372.4 117h3.2M375.1 114V116.7M373.5 114h3.2M373.5 116.7h3.2M377.3 114.4V116.8M375.7 114.4h3.2M375.7 116.8h3.2M378.4 114.8V117.2M376.8 114.8h3.2M376.8 117.2h3.2M379.5 115.1V117.3M377.9 115.1h3.2M377.9 117.3h3.2M380.6 115.5V116.6M379 115.5h3.2M379 116.6h3.2M381.7 114.3V116.5M380.1 114.3h3.2M380.1 116.5h3.2M382.8 115.5V116.3M381.2 115.5h3.2M381.2 116.3h3.2M383.9 115.1V117.8M382.3 115.1h3.2M382.3 117.8h3.2M386.1 115.4V117.3M384.5 115.4h3.2M384.5 117.3h3.2M387.2 115.1V117.1M385.6 115.1h3.2M385.6 117.1h3.2M388.2 114.6V116.9M386.6 114.6h3.2M386.6 116.9h3.2M389.3 115V117.7M387.7 115h3.2M387.7 117.7h3.2M391.5 115.1V116.6M389.9 115.1h3.2M389.9 116.6h3.2M392.5 115V116.2M390.9 115h3.2M390.9 116.2h3.2M394.6 114.9V116.6M393 114.9h3.2M393 116.6h3.2M395.7 116.2V117.2M394.1 116.2h3.2M394.1 117.2h3.2M396.7 115.3V117.1M395.1 115.3h3.2M395.1 117.1h3.2M397.8 114.7V118.5M396.2 114.7h3.2M396.2 118.5h3.2M398.8 115V116.7M397.2 115h3.2M397.2 116.7h3.2M399.9 114.9V118M398.3 114.9h3.2M398.3 118h3.2M400.9 115V116.5M399.3 115h3.2M399.3 116.5h3.2M403 114.6V117.4M401.4 114.6h3.2M401.4 117.4h3.2M404 116V118.3M402.4 116h3.2M402.4 118.3h3.2M405 115.1V117.7M403.4 115.1h3.2M403.4 117.7h3.2M406 114.3V117.3M404.4 114.3h3.2M404.4 117.3h3.2M407.1 114V118M405.5 114h3.2M405.5 118h3.2M408.1 114.8V117.6M406.5 114.8h3.2M406.5 117.6h3.2M409.1 115.2V117.9M407.5 115.2h3.2M407.5 117.9h3.2M411.1 114.9V116.7M409.5 114.9h3.2M409.5 116.7h3.2M412.1 113.7V116.8M410.5 113.7h3.2M410.5 116.8h3.2M413.1 114.7V117.1M411.5 114.7h3.2M411.5 117.1h3.2M414.1 114.4V117.7M412.5 114.4h3.2M412.5 117.7h3.2M415.1 114.8V117.4M413.5 114.8h3.2M413.5 117.4h3.2M416.1 114.6V118.6M414.5 114.6h3.2M414.5 118.6h3.2M417.1 115.7V116.7M415.5 115.7h3.2M415.5 116.7h3.2M419.1 115.2V117.6M417.5 115.2h3.2M417.5 117.6h3.2M420 113.9V117.2M418.4 113.9h3.2M418.4 117.2h3.2M421 115.2V117.6M419.4 115.2h3.2M419.4 117.6h3.2M422 116V117.9M420.4 116h3.2M420.4 117.9h3.2M423.9 115.2V117.6M422.3 115.2h3.2M422.3 117.6h3.2M424.9 115.4V116.9M423.3 115.4h3.2M423.3 116.9h3.2M426.8 114.7V117.4M425.2 114.7h3.2M425.2 117.4h3.2M427.8 114.5V119.1M426.2 114.5h3.2M426.2 119.1h3.2M428.8 113.8V117.3M427.2 113.8h3.2M427.2 117.3h3.2M429.7 115.1V116.8M428.1 115.1h3.2M428.1 116.8h3.2M430.7 115.3V117.2M429.1 115.3h3.2M429.1 117.2h3.2M431.6 115.2V117.5M430 115.2h3.2M430 117.5h3.2M432.6 114.1V117.5M431 114.1h3.2M431 117.5h3.2M434.5 115.2V117.1M432.9 115.2h3.2M432.9 117.1h3.2M435.4 114.9V116.9M433.8 114.9h3.2M433.8 116.9h3.2M436.3 114.4V117.7M434.7 114.4h3.2M434.7 117.7h3.2" fill="none" stroke="#ff00ff" stroke-width="1.4"/>
<path d="M80.7 229.9h6.4l-3.2 5.6zM91.7 195.8h6.4l-3.2 5.6zM100.2 179.9h6.4l-3.2 5.6zM107.4 174h6.4l-3.2 5.6zM113.6 166.5h6.4l-3.2 5.6zM119.3 159h6.4l-3.2 5.6zM129.5 152.2h6.4l-3.2 5.6zM134 150.1h6.4l-3.2 5.6zM138.4 147.6h6.4l-3.2 5.6zM142.5 144.9h6.4l-3.2 5.6zM146.4 142.1h6.4l-3.2 5.6zM150.2 140.5h6.4l-3.2 5.6zM153.8 139h6.4l-3.2 5.6zM160.7 136.6h6.4l-3.2 5.6zM164 134.1h6.4l-3.2 5.6zM167.2 133h6.4l-3.2 5.6zM170.3 132h6.4l-3.2 5.6zM173.3 131.1h6.4l-3.2 5.6zM176.2 130.2h6.4l-3.2 5.6zM179.1 129.5h6.4l-3.2 5.6zM184.7 128.4h6.4l-3.2 5.6zM187.4 127.9h6.4l-3.2 5.6zM190 127.4h6.4l-3.2 5.6zM192.6 126.9h6.4l-3.2 5.6zM197.7 125.9h6.4l-3.2 5.6zM200.1 125.4h6.4l-3.2 5.6zM204.9 124.3h6.4l-3.2 5.6zM207.2 123.7h6.4l-3.2 5.6zM209.5 123.2h6.4l-3.2 5.6zM211.8 122.7h6.4l-3.2 5.6zM214.1 122.1h6.4l-3.2 5.6zM216.3 121.7h6.4l-3.2 5.6zM218.4 121.2h6.4l-3.2 5.6zM222.7 120.5h6.4l-3.2 5.6zM224.8 120.2h6.4l-3.2 5.6zM226.9 119.9h6.4l-3.2 5.6zM228.9 119.6h6.4l-3.2 5.6zM230.9 119.3h6.4l-3.2 5.6zM232.9 119.3h6.4l-3.2 5.6zM234.9 118.9h6.4l-3.2 5.6zM238.8 118.4h6.4l-3.2 5.6zM240.7 118.3h6.4l-3.2 5.6zM242.6 118.1h6.4l-3.2 5.6zM244.5 117.8h6.4l-3.2 5.6zM246.4 117.7h6.4l-3.2 5.6zM248.2 117.7h6.4l-3.2 5.6zM250 117.4h6.4l-3.2 5.6zM253.6 117.1h6.4l-3.2 5.6zM255.4 117.2h6.4l-3.2 5.6zM257.2 116.7h6.4l-3.2 5.6zM258.9 116.7h6.4l-3.2 5.6zM262.3 116.4h6.4l-3.2 5.6zM264 116.6h6.4l-3.2 5.6zM267.4 115.8h6.4l-3.2 5.6zM269.1 116h6.4l-3.2 5.6zM270.7 115.9h6.4l-3.2 5.6zM272.4 116h6.4l-3.2 5.6zM274 115.9h6.4l-3.2 5.6zM275.6 116h6.4l-3.2 5.6zM277.2 115.4h6.4l-3.2 5.6zM280.4 115.7h6.4l-3.2 5.6zM281.9 115.5h6.4l-3.2 5.6zM283.5 115.4h6.4l-3.2 5.6zM285 115.6h6.4l-3.2 5.6zM286.6 115.2h6.4l-3.2 5.6zM288.1 115h6.4l-3.2 5.6zM289.6 115.3h6.4l-3.2 5.6zM292.6 115h6.4l-3.2 5.6zM294.1 115.1h6.4l-3.2 5.6zM295.6 115.3h6.4l-3.2 5.6zM297 115.2h6.4l-3.2 5.6zM298.5 115.5h6.4l-3.2 5.6zM299.9 115.1h6.4l-3.2 5.6zM301.4 114.7h6.4l-3.2 5.6zM304.2 114.8h6.4l-3.2 5.6zM305.7 114.8h6.4l-3.2 5.6zM307.1 114.7h6.4l-3.2 5.6zM308.5 115h6.4l-3.2 5.6zM311.3 114.7h6.4l-3.2 5.6zM312.6 114.3h6.4l-3.2 5.6zM315.4 115h6.4l-3.2 5.6zM316.7 114.7h6.4l-3.2 5.6zM318.1 114.8h6.4l-3.2 5.6zM319.4 114.8h6.4l-3.2 5.6zM320.8 114.9h6.4l-3.2 5.6zM322.1 114.7h6.4l-3.2 5.6zM323.4 115h6.4l-3.2 5.6zM326 114.7h6.4l-3.2 5.6zM327.3 114.7h6.4l-3.2 5.6zM328.6 114.7h6.4l-3.2 5.6zM329.9 114.1h6.4l-3.2 5.6zM331.2 114.5h6.4l-3.2 5.6zM332.5 114.5h6.4l-3.2 5.6zM333.8 114.6h6.4l-3.2 5.6zM337.6 114.1h6.4l-3.2 5.6zM338.8 115h6.4l-3.2 5.6zM340.1 114.5h6.4l-3.2 5.6zM341.3 114.1h6.4l-3.2 5.6zM342.5 113.9h6.4l-3.2 5.6zM343.8 114.4h6.4l-3.2 5.6zM346.2 114.4h6.4l-3.2 5.6zM347.4 114.2h6.4l-3.2 5.6zM348.6 114.4h6.4l-3.2 5.6zM349.9 114.2h6.4l-3.2 5.6zM352.2 114.6h6.4l-3.2 5.6zM353.4 114.1h6.4l-3.2 5.6zM355.8 114.4h6.4l-3.2 5.6zM357 114.7h6.4l-3.2 5.6zM358.2 115.3h6.4l-3.2 5.6zM359.3 114h6.4l-3.2 5.6zM360.5 114.2h6.4l-3.2 5.6zM361.6 114h6.4l-3.2 5.6zM362.8 114.6h6.4l-3.2 5.6zM365.1 113.9h6.4l-3.2 5.6zM366.2 114.1h6.4l-3.2 5.6zM367.4 114.3h6.4l-3.2 5.6zM368.5 113.9h6.4l-3.2 5.6zM369.6 113.9h6.4l-3.2 5.6zM370.8 114.1h6.4l-3.2 5.6zM371.9 113.4h6.4l-3.2 5.6zM374.1 113.7h6.4l-3.2 5.6zM375.2 114.1h6.4l-3.2 5.6zM376.3 114.3h6.4l-3.2 5.6zM377.4 114.2h6.4l-3.2 5.6zM378.5 113.5h6.4l-3.2 5.6zM379.6 114h6.4l-3.2 5.6zM380.7 114.6h6.4l-3.2 5.6zM382.9 114.5h6.4l-3.2 5.6zM384 114.2h6.4l-3.2 5.6zM385 113.8h6.4l-3.2 5.6zM386.1 114.5h6.4l-3.2 5.6zM388.3 113.9h6.4l-3.2 5.6zM389.3 113.7h6.4l-3.2 5.6zM391.4 113.8h6.4l-3.2 5.6zM392.5 114.8h6.4l-3.2 5.6zM393.5 114.3h6.4l-3.2 5.6zM394.6 114.7h6.4l-3.2 5.6zM395.6 114h6.4l-3.2 5.6zM396.7 114.6h6.4l-3.2 5.6zM397.7 113.9h6.4l-3.2 5.6zM399.8 114.1h6.4l-3.2 5.6zM400.8 115.3h6.4l-3.2 5.6zM401.8 114.5h6.4l-3.2 5.6zM402.8 113.9h6.4l-3.2 5.6zM403.9 114.1h6.4l-3.2 5.6zM404.9 114.3h6.4l-3.2 5.6zM405.9 114.7h6.4l-3.2 5.6zM407.9 113.9h6.4l-3.2 5.6zM408.9 113.3h6.4l-3.2 5.6zM409.9 114h6.4l-3.2 5.6zM410.9 114.1h6.4l-3.2 5.6zM411.9 114.2h6.4l-3.2 5.6zM412.9 114.7h6.4l-3.2 5.6zM413.9 114.3h6.4l-3.2 5.6zM415.9 114.5h6.4l-3.2 5.6zM416.8 113.6h6.4l-3.2 5.6zM417.8 114.5h6.4l-3.2 5.6zM418.8 115.1h6.4l-3.2 5.6zM420.7 114.5h6.4l-3.2 5.6zM421.7 114.2h6.4l-3.2 5.6zM423.6 114.2h6.4l-3.2 5.6zM424.6 114.9h6.4l-3.2 5.6zM425.6 113.7h6.4l-3.2 5.6zM426.5 114.1h6.4l-3.2 5.6zM427.5 114.3h6.4l-3.2 5.6zM428.4 114.4h6.4l-3.2 5.6zM429.4 113.9h6.4l-3.2 5.6zM431.3 114.2h6.4l-3.2 5.6zM432.2 114h6.4l-3.2 5.6zM433.1 114.2h6.4l-3.2 5.6z" fill="#ff00ff" stroke="none"/>
<path d="M83.9 231.9V232.5M82.3 231.9h3.2M82.3 232.5h3.2M94.9 197.9V198.5M93.3 197.9h3.2M93.3 198.5h3.2M103.4 182V182.6M101.8 182h3.2M101.8 182.6h3.2M110.6 176.2V176.8M109 176.2h3.2M109 176.8h3.2M116.8 168.9V169.5M115.2 168.9h3.2M115.2 169.5h3.2M122.5 161.6V162.2M120.9 161.6h3.2M120.9 162.2h3.2M132.7 156.3V156.9M131.1 156.3h3.2M131.1 156.9h3.2M137.2 154.3V154.9M135.6 154.3h3.2M135.6 154.9h3.2M141.6 151.9V152.5M140 151.9h3.2M140 152.5h3.2M145.7 149.7V150.3M144.1 149.7h3.2M144.1 150.3h3.2M149.6 147.1V147.7M148 147.1h3.2M148 147.7h3.2M153.4 145.6V146.2M151.8 145.6h3.2M151.8 146.2h3.2M157 143.6V144.2M155.4 143.6h3.2M155.4 144.2h3.2M163.9 141.3V141.9M162.3 141.3h3.2M162.3 141.9h3.2M167.2 139.7V140.3M165.6 139.7h3.2M165.6 140.3h3.2M170.4 138.7V139.3M168.8 138.7h3.2M168.8 139.3h3.2M173.5 137.8V138.4M171.9 137.8h3.2M171.9 138.4h3.2M176.5 137V137.6M174.9 137h3.2M174.9 137.6h3.2M179.4 136.3V136.9M177.8 136.3h3.2M177.8 136.9h3.2M182.3 135.7V136.3M180.7 135.7h3.2M180.7 136.3h3.2M187.9 134.6V135.2M186.3 134.6h3.2M186.3 135.2h3.2M190.6 134.1V134.7M189 134.1h3.2M189 134.7h3.2M193.2 133.7V134.3M191.6 133.7h3.2M191.6 134.3h3.2M195.8 133.3V133.9M194.2 133.3h3.2M194.2 133.9h3.2M200.9 132.7V133.3M199.3 132.7h3.2M199.3 133.3h3.2M203.3 132.5V133.1M201.7 132.5h3.2M201.7 133.1h3.2M208.1 132.1V132.7M206.5 132.1h3.2M206.5 132.7h3.2M210.4 132V132.6M208.8 132h3.2M208.8 132.6h3.2M212.7 131.8V132.4M211.1 131.8h3.2M211.1 132.4h3.2M215 131.7V132.3M213.4 131.7h3.2M213.4 132.3h3.2M217.3 131.6V132.2M215.7 131.6h3.2M215.7 132.2h3.2M219.5 131.5V132.1M217.9 131.5h3.2M217.9 132.1h3.2M221.6 131.3V131.9M220 131.3h3.2M220 131.9h3.2M225.9 131.1V131.7M224.3 131.1h3.2M224.3 131.7h3.2M228 131V131.6M226.4 131h3.2M226.4 131.6h3.2M230.1 130.9V131.5M228.5 130.9h3.2M228.5 131.5h3.2M232.1 130.8V131.4M230.5 130.8h3.2M230.5 131.4h3.2M234.1 130.6V131.2M232.5 130.6h3.2M232.5 131.2h3.2M236.1 130.5V131.1M234.5 130.5h3.2M234.5 131.1h3.2M238.1 130.4V131M236.5 130.4h3.2M236.5 131h3.2M242 130.2V130.8M240.4 130.2h3.2M240.4 130.8h3.2M243.9 130.1V130.7M242.3 130.1h3.2M242.3 130.7h3.2M245.8 130.1V130.7M244.2 130.1h3.2M244.2 130.7h3.2M247.7 130V130.6M246.1 130h3.2M246.1 130.6h3.2M249.6 129.9V130.5M248 129.9h3.2M248 130.5h3.2M251.4 129.8V130.4M249.8 129.8h3.2M249.8 130.4h3.2M253.2 129.8V130.4M251.6 129.8h3.2M251.6 130.4h3.2M256.8 129.6V130.2M255.2 129.6h3.2M255.2 130.2h3.2M258.6 129.6V130.2M257 129.6h3.2M257 130.2h3.2M260.4 129.5V130.1M258.8 129.5h3.2M258.8 130.1h3.2M262.1 129.4V130M260.5 129.4h3.2M260.5 130h3.2M265.5 129.3V129.9M263.9 129.3h3.2M263.9 129.9h3.2M267.2 129.3V129.9M265.6 129.3h3.2M265.6 129.9h3.2M270.6 129.2V129.8M269 129.2h3.2M269 129.8h3.2M272.3 129.1V129.7M270.7 129.1h3.2M270.7 129.7h3.2M273.9 129.1V129.7M272.3 129.1h3.2M272.3 129.7h3.2M275.6 129.1V129.7M274 129.1h3.2M274 129.7h3.2M277.2 129V129.6M275.6 129h3.2M275.6 129.6h3.2M278.8 129V129.6M277.2 129h3.2M277.2 129.6h3.2M280.4 128.9V129.5M278.8 128.9h3.2M278.8 129.5h3.2M283.6 128.9V129.5M282 128.9h3.2M282 129.5h3.2M285.1 128.8V129.4M283.5 128.8h3.2M283.5 129.4h3.2M286.7 128.8V129.4M285.1 128.8h3.2M285.1 129.4h3.2M288.2 128.8V129.4M286.6 128.8h3.2M286.6 129.4h3.2M289.8 128.7V129.3M288.2 128.7h3.2M288.2 129.3h3.2M291.3 128.7V129.3M289.7 128.7h3.2M289.7 129.3h3.2M292.8 128.7V129.3M291.2 128.7h3.2M291.2 129.3h3.2M295.8 128.6V129.2M294.2 128.6h3.2M294.2 129.2h3.2M297.3 128.6V129.2M295.7 128.6h3.2M295.7 129.2h3.2M298.8 128.6V129.2M297.2 128.6h3.2M297.2 129.2h3.2M300.2 128.6V129.2M298.6 128.6h3.2M298.6 129.2h3.2M301.7 128.5V129.1M300.1 128.5h3.2M300.1 129.1h3.2M303.1 128.5V129.1M301.5 128.5h3.2M301.5 129.1h3.2M304.6 128.5V129.1M303 128.5h3.2M303 129.1h3.2M307.4 128.5V129.1M305.8 128.5h3.2M305.8 129.1h3.2M308.9 128.4V129M307.3 128.4h3.2M307.3 129h3.2M310.3 128.4V129M308.7 128.4h3.2M308.7 129h3.2M311.7 128.4V129M310.1 128.4h3.2M310.1 129h3.2M314.5 128.4V129M312.9 128.4h3.2M312.9 129h3.2M315.8 128.4V129M314.2 128.4h3.2M314.2 129h3.2M318.6 128.3V128.9M317 128.3h3.2M317 128.9h3.2M319.9 128.3V128.9M318.3 128.3h3.2M318.3 128.9h3.2M321.3 128.3V128.9M319.7 128.3h3.2M319.7 128.9h3.2M322.6 128.3V128.9M321 128.3h3.2M321 128.9h3.2M324 128.3V128.9M322.4 128.3h3.2M322.4 128.9h3.2M325.3 128.3V128.9M323.7 128.3h3.2M323.7 128.9h3.2M326.6 128.3V128.9M325 128.3h3.2M325 128.9h3.2M329.2 128.3V128.9M327.6 128.3h3.2M327.6 128.9h3.2M330.5 128.3V128.9M328.9 128.3h3.2M328.9 128.9h3.2M331.8 128.2V128.8M330.2 128.2h3.2M330.2 128.8h3.2M333.1 128.2V128.8M331.5 128.2h3.2M331.5 128.8h3.2M334.4 128.2V128.8M332.8 128.2h3.2M332.8 128.8h3.2M335.7 128.2V128.8M334.1 128.2h3.2M334.1 128.8h3.2M337 128.2V128.8M335.4 128.2h3.2M335.4 128.8h3.2M340.8 128.2V128.8M339.2 128.2h3.2M339.2 128.8h3.2M342 128.2V128.8M340.4 128.2h3.2M340.4 128.8h3.2M343.3 128.2V128.8M341.7 128.2h3.2M341.7 128.8h3.2M344.5 128.2V128.8M342.9 128.2h3.2M342.9 128.8h3.2M345.7 128.2V128.8M344.1 128.2h3.2M344.1 128.8h3.2M347 128.2V128.8M345.4 128.2h3.2M345.4 128.8h3.2M349.4 128.2V128.8M347.8 128.2h3.2M347.8 128.8h3.2M350.6 128.2V128.8M349 128.2h3.2M349 128.8h3.2M351.8 128.1V128.7M350.2 128.1h3.2M350.2 128.7h3.2M353.1 128.1V128.7M351.5 128.1h3.2M351.5 128.7h3.2M355.4 128.1V128.7M353.8 128.1h3.2M353.8 128.7h3.2M356.6 128.1V128.7M355 128.1h3.2M355 128.7h3.2M359 128.1V128.7M357.4 128.1h3.2M357.4 128.7h3.2M360.2 128.1V128.7M358.6 128.1h3.2M358.6 128.7h3.2M361.4 128.1V128.7M359.8 128.1h3.2M359.8 128.7h3.2M362.5 128.1V128.7M360.9 128.1h3.2M360.9 128.7h3.2M363.7 128.1V128.7M362.1 128.1h3.2M362.1 128.7h3.2M364.8 128.1V128.7M363.2 128.1h3.2M363.2 128.7h3.2M366 128.1V128.7M364.4 128.1h3.2M364.4 128.7h3.2M368.3 128.1V128.7M366.7 128.1h3.2M366.7 128.7h3.2M369.4 128.1V128.7M367.8 128.1h3.2M367.8 128.7h3.2M370.6 128.1V128.7M369 128.1h3.2M369 128.7h3.2M371.7 128.1V128.7M370.1 128.1h3.2M370.1 128.7h3.2M372.8 128.1V128.7M371.2 128.1h3.2M371.2 128.7h3.2M374 128.1V128.7M372.4 128.1h3.2M372.4 128.7h3.2M375.1 128.1V128.7M373.5 128.1h3.2M373.5 128.7h3.2M377.3 128.1V128.7M375.7 128.1h3.2M375.7 128.7h3.2M378.4 128.1V128.7M376.8 128.1h3.2M376.8 128.7h3.2M379.5 128.1V128.7M377.9 128.1h3.2M377.9 128.7h3.2M380.6 128.1V128.7M379 128.1h3.2M379 128.7h3.2M381.7 128.1V128.7M380.1 128.1h3.2M380.1 128.7h3.2M382.8 128V128.6M381.2 128h3.2M381.2 128.6h3.2M383.9 128V128.6M382.3 128h3.2M382.3 128.6h3.2M386.1 128V128.6M384.5 128h3.2M384.5 128.6h3.2M387.2 128V128.6M385.6 128h3.2M385.6 128.6h3.2M388.2 128V128.6M386.6 128h3.2M386.6 128.6h3.2M389.3 128V128.6M387.7 128h3.2M387.7 128.6h3.2M391.5 128V128.6M389.9 128h3.2M389.9 128.6h3.2M392.5 128V128.6M390.9 128h3.2M390.9 128.6h3.2M394.6 128V128.6M393 128h3.2M393 128.6h3.2M395.7 128V128.6M394.1 128h3.2M394.1 128.6h3.2M396.7 128V128.6M395.1 128h3.2M395.1 128.6h3.2M397.8 128V128.6M396.2 128h3.2M396.2 128.6h3.2M398.8 128V128.6M397.2 128h3.2M397.2 128.6h3.2M399.9 128V128.6M398.3 128h3.2M398.3 128.6h3.2M400.9 128V128.6M399.3 128h3.2M399.3 128.6h3.2M403 128V128.6M401.4 128h3.2M401.4 128.6h3.2M404 128V128.6M402.4 128h3.2M402.4 128.6h3.2M405 128V128.6M403.4 128h3.2M403.4 128.6h3.2M406 128V128.6M404.4 128h3.2M404.4 128.6h3.2M407.1 128V128.6M405.5 128h3.2M405.5 128.6h3.2M408.1 128V128.6M406.5 128h3.2M406.5 128.6h3.2M409.1 128V128.6M407.5 128h3.2M407.5 128.6h3.2M411.1 128V128.6M409.5 128h3.2M409.5 128.6h3.2M412.1 128V128.6M410.5 128h3.2M410.5 128.6h3.2M413.1 128V128.6M411.5 128h3.2M411.5 128.6h3.2M414.1 128V128.6M412.5 128h3.2M412.5 128.6h3.2M415.1 128V128.6M413.5 128h3.2M413.5 128.6h3.2M416.1 128V128.6M414.5 128h3.2M414.5 128.6h3.2M417.1 128V128.6M415.5 128h3.2M415.5 128.6h3.2M419.1 127.9V128.5M417.5 127.9h3.2M417.5 128.5h3.2M420 127.9V128.5M418.4 127.9h3.2M418.4 128.5h3.2M421 127.9V128.5M419.4 127.9h3.2M419.4 128.5h3.2M422 127.9V128.5M420.4 127.9h3.2M420.4 128.5h3.2M423.9 127.9V128.5M422.3 127.9h3.2M422.3 128.5h3.2M424.9 127.9V128.5M423.3 127.9h3.2M423.3 128.5h3.2M426.8 127.9V128.5M425.2 127.9h3.2M425.2 128.5h3.2M427.8 127.9V128.5M426.2 127.9h3.2M426.2 128.5h3.2M428.8 127.9V128.5M427.2 127.9h3.2M427.2 128.5h3.2M429.7 127.9V128.5M428.1 127.9h3.2M428.1 128.5h3.2M430.7 127.9V128.5M429.1 127.9h3.2M429.1 128.5h3.2M431.6 127.9V128.5M430 127.9h3.2M430 128.5h3.2M432.6 127.9V128.5M431 127.9h3.2M431 128.5h3.2M434.5 127.9V128.5M432.9 127.9h3.2M432.9 128.5h3.2M435.4 127.9V128.5M433.8 127.9h3.2M433.8 128.5h3.2M436.3 127.9V128.5M434.7 127.9h3.2M434.7 128.5h3.2" fill="none" stroke="#0000ff" stroke-width="1.4"/>
<path d="M80.7 234.1h6.4l-3.2 -5.6zM91.7 200.1h6.4l-3.2 -5.6zM100.2 184.2h6.4l-3.2 -5.6zM107.4 178.4h6.4l-3.2 -5.6zM113.6 171.1h6.4l-3.2 -5.6zM119.3 163.8h6.4l-3.2 -5.6zM129.5 158.5h6.4l-3.2 -5.6zM134 156.5h6.4l-3.2 -5.6zM138.4 154.1h6.4l-3.2 -5.6zM142.5 151.9h6.4l-3.2 -5.6zM146.4 149.3h6.4l-3.2 -5.6zM150.2 147.8h6.4l-3.2 -5.6zM153.8 145.8h6.4l-3.2 -5.6zM160.7 143.5h6.4l-3.2 -5.6zM164 141.9h6.4l-3.2 -5.6zM167.2 140.9h6.4l-3.2 -5.6zM170.3 140h6.4l-3.2 -5.6zM173.3 139.2h6.4l-3.2 -5.6zM176.2 138.5h6.4l-3.2 -5.6zM179.1 137.9h6.4l-3.2 -5.6zM184.7 136.8h6.4l-3.2 -5.6zM187.4 136.3h6.4l-3.2 -5.6zM190 135.9h6.4l-3.2 -5.6zM192.6 135.5h6.4l-3.2 -5.6zM197.7 134.9h6.4l-3.2 -5.6zM200.1 134.7h6.4l-3.2 -5.6zM204.9 134.3h6.4l-3.2 -5.6zM207.2 134.2h6.4l-3.2 -5.6zM209.5 134h6.4l-3.2 -5.6zM211.8 133.9h6.4l-3.2 -5.6zM214.1 133.8h6.4l-3.2 -5.6zM216.3 133.7h6.4l-3.2 -5.6zM218.4 133.5h6.4l-3.2 -5.6zM222.7 133.3h6.4l-3.2 -5.6zM224.8 133.2h6.4l-3.2 -5.6zM226.9 133.1h6.4l-3.2 -5.6zM228.9 133h6.4l-3.2 -5.6zM230.9 132.8h6.4l-3.2 -5.6zM232.9 132.7h6.4l-3.2 -5.6zM234.9 132.6h6.4l-3.2 -5.6zM238.8 132.4h6.4l-3.2 -5.6zM240.7 132.3h6.4l-3.2 -5.6zM242.6 132.3h6.4l-3.2 -5.6zM244.5 132.2h6.4l-3.2 -5.6zM246.4 132.1h6.4l-3.2 -5.6zM248.2 132h6.4l-3.2 -5.6zM250 132h6.4l-3.2 -5.6zM253.6 131.8h6.4l-3.2 -5.6zM255.4 131.8h6.4l-3.2 -5.6zM257.2 131.7h6.4l-3.2 -5.6zM258.9 131.6h6.4l-3.2 -5.6zM262.3 131.5h6.4l-3.2 -5.6zM264 131.5h6.4l-3.2 -5.6zM267.4 131.4h6.4l-3.2 -5.6zM269.1 131.3h6.4l-3.2 -5.6zM270.7 131.3h6.4l-3.2 -5.6zM272.4 131.3h6.4l-3.2 -5.6zM274 131.2h6.4l-3.2 -5.6zM275.6 131.2h6.4l-3.2 -5.6zM277.2 131.1h6.4l-3.2 -5.6zM280.4 131.1h6.4l-3.2 -5.6zM281.9 131h6.4l-3.2 -5.6zM283.5 131h6.4l-3.2 -5.6zM285 131h6.4l-3.2 -5.6zM286.6 130.9h6.4l-3.2 -5.6zM288.1 130.9h6.4l-3.2 -5.6zM289.6 130.9h6.4l-3.2 -5.6zM292.6 130.8h6.4l-3.2 -5.6zM294.1 130.8h6.4l-3.2 -5.6zM295.6 130.8h6.4l-3.2 -5.6zM297 130.8h6.4l-3.2 -5.6zM298.5 130.7h6.4l-3.2 -5.6zM299.9 130.7h6.4l-3.2 -5.6zM301.4 130.7h6.4l-3.2 -5.6zM304.2 130.7h6.4l-3.2 -5.6zM305.7 130.6h6.4l-3.2 -5.6zM307.1 130.6h6.4l-3.2 -5.6zM308.5 130.6h6.4l-3.2 -5.6zM311.3 130.6h6.4l-3.2 -5.6zM312.6 130.6h6.4l-3.2 -5.6zM315.4 130.5h6.4l-3.2 -5.6zM316.7 130.5h6.4l-3.2 -5.6zM318.1 130.5h6.4l-3.2 -5.6zM319.4 130.5h6.4l-3.2 -5.6zM320.8 130.5h6.4l-3.2 -5.6zM322.1 130.5h6.4l-3.2 -5.6zM323.4 130.5h6.4l-3.2 -5.6zM326 130.5h6.4l-3.2 -5.6zM327.3 130.5h6.4l-3.2 -5.6zM328.6 130.4h6.4l-3.2 -5.6zM329.9 130.4h6.4l-3.2 -5.6zM331.2 130.4h6.4l-3.2 -5.6zM332.5 130.4h6.4l-3.2 -5.6zM333.8 130.4h6.4l-3.2 -5.6zM337.6 130.4h6.4l-3.2 -5.6zM338.8 130.4h6.4l-3.2 -5.6zM340.1 130.4h6.4l-3.2 -5.6zM341.3 130.4h6.4l-3.2 -5.6zM342.5 130.4h6.4l-3.2 -5.6zM343.8 130.4h6.4l-3.2 -5.6zM346.2 130.4h6.4l-3.2 -5.6zM347.4 130.4h6.4l-3.2 -5.6zM348.6 130.3h6.4l-3.2 -5.6zM349.9 130.3h6.4l-3.2 -5.6zM352.2 130.3h6.4l-3.2 -5.6zM353.4 130.3h6.4l-3.2 -5.6zM355.8 130.3h6.4l-3.2 -5.6zM357 130.3h6.4l-3.2 -5.6zM358.2 130.3h6.4l-3.2 -5.6zM359.3 130.3h6.4l-3.2 -5.6zM360.5 130.3h6.4l-3.2 -5.6zM361.6 130.3h6.4l-3.2 -5.6zM362.8 130.3h6.4l-3.2 -5.6zM365.1 130.3h6.4l-3.2 -5.6zM366.2 130.3h6.4l-3.2 -5.6zM367.4 130.3h6.4l-3.2 -5.6zM368.5 130.3h6.4l-3.2 -5.6zM369.6 130.3h6.4l-3.2 -5.6zM370.8 130.3h6.4l-3.2 -5.6zM371.9 130.3h6.4l-3.2 -5.6zM374.1 130.3h6.4l-3.2 -5.6zM375.2 130.3h6.4l-3.2 -5.6zM376.3 130.3h6.4l-3.2 -5.6zM377.4 130.3h6.4l-3.2 -5.6zM378.5 130.3h6.4l-3.2 -5.6zM379.6 130.2h6.4l-3.2 -5.6zM380.7 130.2h6.4l-3.2 -5.6zM382.9 130.2h6.4l-3.2 -5.6zM384 130.2h6.4l-3.2 -5.6zM385 130.2h6.4l-3.2 -5.6zM386.1 130.2h6.4l-3.2 -5.6zM388.3 130.2h6.4l-3.2 -5.6zM389.3 130.2h6.4l-3.2 -5.6zM391.4 130.2h6.4l-3.2 -5.6zM392.5 130.2h6.4l-3.2 -5.6zM393.5 130.2h6.4l-3.2 -5.6zM394.6 130.2h6.4l-3.2 -5.6zM395.6 130.2h6.4l-3.2 -5.6zM396.7 130.2h6.4l-3.2 -5.6zM397.7 130.2h6.4l-3.2 -5.6zM399.8 130.2h6.4l-3.2 -5.6zM400.8 130.2h6.4l-3.2 -5.6zM401.8 130.2h6.4l-3.2 -5.6zM402.8 130.2h6.4l-3.2 -5.6zM403.9 130.2h6.4l-3.2 -5.6zM404.9 130.2h6.4l-3.2 -5.6zM405.9 130.2h6.4l-3.2 -5.6zM407.9 130.2h6.4l-3.2 -5.6zM408.9 130.2h6.4l-3.2 -5.6zM409.9 130.2h6.4l-3.2 -5.6zM410.9 130.2h6.4l-3.2 -5.6zM411.9 130.2h6.4l-3.2 -5.6zM412.9 130.2h6.4l-3.2 -5.6zM413.9 130.2h6.4l-3.2 -5.6zM415.9 130.1h6.4l-3.2 -5.6zM416.8 130.1h6.4l-3.2 -5.6zM417.8 130.1h6.4l-3.2 -5.6zM418.8 130.1h6.4l-3.2 -5.6zM420.7 130.1h6.4l-3.2 -5.6zM421.7 130.1h6.4l-3.2 -5.6zM423.6 130.1h6.4l-3.2 -5.6zM424.6 130.1h6.4l-3.2 -5.6zM425.6 130.1h6.4l-3.2 -5.6zM426.5 130.1h6.4l-3.2 -5.6zM427.5 130.1h6.4l-3.2 -5.6zM428.4 130.1h6.4l-3.2 -5.6zM429.4 130.1h6.4l-3.2 -5.6zM431.3 130.1h6.4l-3.2 -5.6zM432.2 130.1h6.4l-3.2 -5.6zM433.1 130.1h6.4l-3.2 -5.6z" fill="#0000ff" stroke="none"/>
<path d="M83.9 233V233.6M82.3 233h3.2M82.3 233.6h3.2M94.9 200.2V200.8M93.3 200.2h3.2M93.3 200.8h3.2M103.4 185.7V186.3M101.8 185.7h3.2M101.8 186.3h3.2M110.6 180.9V181.5M109 180.9h3.2M109 181.5h3.2M116.8 172.9V173.5M115.2 172.9h3.2M115.2 173.5h3.2M122.5 167.1V167.7M120.9 167.1h3.2M120.9 167.7h3.2M132.7 163.3V163.9M131.1 163.3h3.2M131.1 163.9h3.2M137.2 161.3V161.9M135.6 161.3h3.2M135.6 161.9h3.2M141.6 159.4V160M140 159.4h3.2M140 160h3.2M145.7 157.3V157.9M144.1 157.3h3.2M144.1 157.9h3.2M149.6 155.9V156.5M148 155.9h3.2M148 156.5h3.2M153.4 155V155.6M151.8 155h3.2M151.8 155.6h3.2M157 154.1V154.7M155.4 154.1h3.2M155.4 154.7h3.2M163.9 152.9V153.5M162.3 152.9h3.2M162.3 153.5h3.2M167.2 152.1V152.7M165.6 152.1h3.2M165.6 152.7h3.2M170.4 151.6V152.2M168.8 151.6h3.2M168.8 152.2h3.2M173.5 151.1V151.7M171.9 151.1h3.2M171.9 151.7h3.2M176.5 150.6V151.2M174.9 150.6h3.2M174.9 151.2h3.2M179.4 150.3V150.9M177.8 150.3h3.2M177.8 150.9h3.2M182.3 149.9V150.5M180.7 149.9h3.2M180.7 150.5h3.2M187.9 149.3V149.9M186.3 149.3h3.2M186.3 149.9h3.2M190.6 149.1V149.7M189 149.1h3.2M189 149.7h3.2M193.2 148.8V149.4M191.6 148.8h3.2M191.6 149.4h3.2M195.8 148.6V149.2M194.2 148.6h3.2M194.2 149.2h3.2M200.9 148.4V149M199.3 148.4h3.2M199.3 149h3.2M203.3 148.3V148.9M201.7 148.3h3.2M201.7 148.9h3.2M208.1 148.1V148.7M206.5 148.1h3.2M206.5 148.7h3.2M210.4 148V148.6M208.8 148h3.2M208.8 148.6h3.2M212.7 148V148.6M211.1 148h3.2M211.1 148.6h3.2M215 147.9V148.5M213.4 147.9h3.2M213.4 148.5h3.2M217.3 147.8V148.4M215.7 147.8h3.2M215.7 148.4h3.2M219.5 147.8V148.4M217.9 147.8h3.2M217.9 148.4h3.2M221.6 147.7V148.3M220 147.7h3.2M220 148.3h3.2M225.9 147.6V148.2M224.3 147.6h3.2M224.3 148.2h3.2M228 147.5V148.1M226.4 147.5h3.2M226.4 148.1h3.2M230.1 147.5V148.1M228.5 147.5h3.2M228.5 148.1h3.2M232.1 147.4V148M230.5 147.4h3.2M230.5 148h3.2M234.1 147.3V147.9M232.5 147.3h3.2M232.5 147.9h3.2M236.1 147.2V147.8M234.5 147.2h3.2M234.5 147.8h3.2M238.1 147.1V147.7M236.5 147.1h3.2M236.5 147.7h3.2M242 147V147.6M240.4 147h3.2M240.4 147.6h3.2M243.9 146.9V147.5M242.3 146.9h3.2M242.3 147.5h3.2M245.8 146.8V147.4M244.2 146.8h3.2M244.2 147.4h3.2M247.7 146.8V147.4M246.1 146.8h3.2M246.1 147.4h3.2M249.6 146.7V147.3M248 146.7h3.2M248 147.3h3.2M251.4 146.7V147.3M249.8 146.7h3.2M249.8 147.3h3.2M253.2 146.7V147.3M251.6 146.7h3.2M251.6 147.3h3.2M256.8 146.6V147.2M255.2 146.6h3.2M255.2 147.2h3.2M258.6 146.6V147.2M257 146.6h3.2M257 147.2h3.2M260.4 146.6V147.2M258.8 146.6h3.2M258.8 147.2h3.2M262.1 146.6V147.2M260.5 146.6h3.2M260.5 147.2h3.2M265.5 146.5V147.1M263.9 146.5h3.2M263.9 147.1h3.2M267.2 146.5V147.1M265.6 146.5h3.2M265.6 147.1h3.2M270.6 146.5V147.1M269 146.5h3.2M269 147.1h3.2M272.3 146.5V147.1M270.7 146.5h3.2M270.7 147.1h3.2M273.9 146.5V147.1M272.3 146.5h3.2M272.3 147.1h3.2M275.6 146.5V147.1M274 146.5h3.2M274 147.1h3.2M277.2 146.4V147M275.6 146.4h3.2M275.6 147h3.2M278.8 146.4V147M277.2 146.4h3.2M277.2 147h3.2M280.4 146.4V147M278.8 146.4h3.2M278.8 147h3.2M283.6 146.4V147M282 146.4h3.2M282 147h3.2M285.1 146.4V147M283.5 146.4h3.2M283.5 147h3.2M286.7 146.4V147M285.1 146.4h3.2M285.1 147h3.2M288.2 146.4V147M286.6 146.4h3.2M286.6 147h3.2M289.8 146.4V147M288.2 146.4h3.2M288.2 147h3.2M291.3 146.4V147M289.7 146.4h3.2M289.7 147h3.2M292.8 146.3V146.9M291.2 146.3h3.2M291.2 146.9h3.2M295.8 146.3V146.9M294.2 146.3h3.2M294.2 146.9h3.2M297.3 146.3V146.9M295.7 146.3h3.2M295.7 146.9h3.2M298.8 146.3V146.9M297.2 146.3h3.2M297.2 146.9h3.2M300.2 146.3V146.9M298.6 146.3h3.2M298.6 146.9h3.2M301.7 146.3V146.9M300.1 146.3h3.2M300.1 146.9h3.2M303.1 146.3V146.9M301.5 146.3h3.2M301.5 146.9h3.2M304.6 146.3V146.9M303 146.3h3.2M303 146.9h3.2M307.4 146.3V146.9M305.8 146.3h3.2M305.8 146.9h3.2M308.9 146.3V146.9M307.3 146.3h3.2M307.3 146.9h3.2M310.3 146.3V146.9M308.7 146.3h3.2M308.7 146.9h3.2M311.7 146.3V146.9M310.1 146.3h3.2M310.1 146.9h3.2M314.5 146.3V146.9M312.9 146.3h3.2M312.9 146.9h3.2M315.8 146.3V146.9M314.2 146.3h3.2M314.2 146.9h3.2M318.6 146.2V146.8M317 146.2h3.2M317 146.8h3.2M319.9 146.2V146.8M318.3 146.2h3.2M318.3 146.8h3.2M321.3 146.2V146.8M319.7 146.2h3.2M319.7 146.8h3.2M322.6 146.2V146.8M321 146.2h3.2M321 146.8h3.2M324 146.2V146.8M322.4 146.2h3.2M322.4 146.8h3.2M325.3 146.2V146.8M323.7 146.2h3.2M323.7 146.8h3.2M326.6 146.2V146.8M325 146.2h3.2M325 146.8h3.2M329.2 146.2V146.8M327.6 146.2h3.2M327.6 146.8h3.2M330.5 146.2V146.8M328.9 146.2h3.2M328.9 146.8h3.2M331.8 146.2V146.8M330.2 146.2h3.2M330.2 146.8h3.2M333.1 146.2V146.8M331.5 146.2h3.2M331.5 146.8h3.2M334.4 146.2V146.8M332.8 146.2h3.2M332.8 146.8h3.2M335.7 146.2V146.8M334.1 146.2h3.2M334.1 146.8h3.2M337 146.2V146.8M335.4 146.2h3.2M335.4 146.8h3.2M340.8 146.2V146.8M339.2 146.2h3.2M339.2 146.8h3.2M342 146.2V146.8M340.4 146.2h3.2M340.4 146.8h3.2M343.3 146.2V146.8M341.7 146.2h3.2M341.7 146.8h3.2M344.5 146.2V146.8M342.9 146.2h3.2M342.9 146.8h3.2M345.7 146.2V146.8M344.1 146.2h3.2M344.1 146.8h3.2M347 146.2V146.8M345.4 146.2h3.2M345.4 146.8h3.2M349.4 146.1V146.7M347.8 146.1h3.2M347.8 146.7h3.2M350.6 146.1V146.7M349 146.1h3.2M349 146.7h3.2M351.8 146.1V146.7M350.2 146.1h3.2M350.2 146.7h3.2M353.1 146.1V146.7M351.5 146.1h3.2M351.5 146.7h3.2M355.4 146.1V146.7M353.8 146.1h3.2M353.8 146.7h3.2M356.6 146.1V146.7M355 146.1h3.2M355 146.7h3.2M359 146.1V146.7M357.4 146.1h3.2M357.4 146.7h3.2M360.2 146.1V146.7M358.6 146.1h3.2M358.6 146.7h3.2M361.4 146.1V146.7M359.8 146.1h3.2M359.8 146.7h3.2M362.5 146.1V146.7M360.9 146.1h3.2M360.9 146.7h3.2M363.7 146.1V146.7M362.1 146.1h3.2M362.1 146.7h3.2M364.8 146.1V146.7M363.2 146.1h3.2M363.2 146.7h3.2M366 146.1V146.7M364.4 146.1h3.2M364.4 146.7h3.2M368.3 146.1V146.7M366.7 146.1h3.2M366.7 146.7h3.2M369.4 146.1V146.7M367.8 146.1h3.2M367.8 146.7h3.2M370.6 146.1V146.7M369 146.1h3.2M369 146.7h3.2M371.7 146.1V146.7M370.1 146.1h3.2M370.1 146.7h3.2M372.8 146.1V146.7M371.2 146.1h3.2M371.2 146.7h3.2M374 146.1V146.7M372.4 146.1h3.2M372.4 146.7h3.2M375.1 146.1V146.7M373.5 146.1h3.2M373.5 146.7h3.2M377.3 146.1V146.7M375.7 146.1h3.2M375.7 146.7h3.2M378.4 146.1V146.7M376.8 146.1h3.2M376.8 146.7h3.2M379.5 146.1V146.7M377.9 146.1h3.2M377.9 146.7h3.2M380.6 146.1V146.7M379 146.1h3.2M379 146.7h3.2M381.7 146.1V146.7M380.1 146.1h3.2M380.1 146.7h3.2M382.8 146.1V146.7M381.2 146.1h3.2M381.2 146.7h3.2M383.9 146.1V146.7M382.3 146.1h3.2M382.3 146.7h3.2M386.1 146.1V146.7M384.5 146.1h3.2M384.5 146.7h3.2M387.2 146.1V146.7M385.6 146.1h3.2M385.6 146.7h3.2M388.2 146V146.6M386.6 146h3.2M386.6 146.6h3.2M389.3 146V146.6M387.7 146h3.2M387.7 146.6h3.2M391.5 146V146.6M389.9 146h3.2M389.9 146.6h3.2M392.5 146V146.6M390.9 146h3.2M390.9 146.6h3.2M394.6 146V146.6M393 146h3.2M393 146.6h3.2M395.7 146V146.6M394.1 146h3.2M394.1 146.6h3.2M396.7 146V146.6M395.1 146h3.2M395.1 146.6h3.2M397.8 146V146.6M396.2 146h3.2M396.2 146.6h3.2M398.8 146V146.6M397.2 146h3.2M397.2 146.6h3.2M399.9 146V146.6M398.3 146h3.2M398.3 146.6h3.2M400.9 146V146.6M399.3 146h3.2M399.3 146.6h3.2M403 146V146.6M401.4 146h3.2M401.4 146.6h3.2M404 146V146.6M402.4 146h3.2M402.4 146.6h3.2M405 146V146.6M403.4 146h3.2M403.4 146.6h3.2M406 146V146.6M404.4 146h3.2M404.4 146.6h3.2M407.1 146V146.6M405.5 146h3.2M405.5 146.6h3.2M408.1 146V146.6M406.5 146h3.2M406.5 146.6h3.2M409.1 146V146.6M407.5 146h3.2M407.5 146.6h3.2M411.1 146V146.6M409.5 146h3.2M409.5 146.6h3.2M412.1 146V146.6M410.5 146h3.2M410.5 146.6h3.2M413.1 146V146.6M411.5 146h3.2M411.5 146.6h3.2M414.1 146V146.6M412.5 146h3.2M412.5 146.6h3.2M415.1 146V146.6M413.5 146h3.2M413.5 146.6h3.2M416.1 146V146.6M414.5 146h3.2M414.5 146.6h3.2M417.1 146V146.6M415.5 146h3.2M415.5 146.6h3.2M419.1 146V146.6M417.5 146h3.2M417.5 146.6h3.2M420 146V146.6M418.4 146h3.2M418.4 146.6h3.2M421 146V146.6M419.4 146h3.2M419.4 146.6h3.2M422 146V146.6M420.4 146h3.2M420.4 146.6h3.2M423.9 146V146.6M422.3 146h3.2M422.3 146.6h3.2M424.9 146V146.6M423.3 146h3.2M423.3 146.6h3.2M426.8 146V146.6M425.2 146h3.2M425.2 146.6h3.2M427.8 146V146.6M426.2 146h3.2M426.2 146.6h3.2M428.8 146V146.6M427.2 146h3.2M427.2 146.6h3.2M429.7 146V146.6M428.1 146h3.2M428.1 146.6h3.2M430.7 146V146.6M429.1 146h3.2M429.1 146.6h3.2M431.6 146V146.6M430 146h3.2M430 146.6h3.2M432.6 146V146.6M431 146h3.2M431 146.6h3.2M434.5 146V146.6M432.9 146h3.2M432.9 146.6h3.2M435.4 146V146.6M433.8 146h3.2M433.8 146.6h3.2M436.3 146V146.6M434.7 146h3.2M434.7 146.6h3.2" fill="none" stroke="#ff0000" stroke-width="1.4"/>
<path d="M81.7 233.3a2.2 2.2 0 1 0 4.4 0a2.2 2.2 0 1 0 -4.4 0M92.7 200.5a2.2 2.2 0 1 0 4.4 0a2.2 2.2 0 1 0 -4.4 0M101.2 186a2.2 2.2 0 1 0 4.4 0a2.2 2.2 0 1 0 -4.4 0M108.4 181.2a2.2 2.2 0 1 0 4.4 0a2.2 2.2 0 1 0 -4.4 0M114.6 173.2a2.2 2.2 0 1 0 4.4 0a2.2 2.2 0 1 0 -4.4 0M120.3 167.4a2.2 2.2 0 1 0 4.4 0a2.2 2.2 0 1 0 -4.4 0M130.5 163.6a2.2 2.2 0 1 0 4.4 0a2.2 2.2 0 1 0 -4.4 0M135 161.6a2.2 2.2 0 1 0 4.4 0a2.2 2.2 0 1 0 -4.4 0M139.4 159.7a2.2 2.2 0 1 0 4.4 0a2.2 2.2 0 1 0 -4.4 0M143.5 157.6a2.2 2.2 0 1 0 4.4 0a2.2 2.2 0 1 0 -4.4 0M147.4 156.2a2.2 2.2 0 1 0 4.4 0a2.2 2.2 0 1 0 -4.4 0M151.2 155.3a2.2 2.2 0 1 0 4.4 0a2.2 2.2 0 1 0 -4.4 0M154.8 154.4a2.2 2.2 0 1 0 4.4 0a2.2 2.2 0 1 0 -4.4 0M161.7 153.2a2.2 2.2 0 1 0 4.4 0a2.2 2.2 0 1 0 -4.4 0M165 152.4a2.2 2.2 0 1 0 4.4 0a2.2 2.2 0 1 0 -4.4 0M168.2 151.9a2.2 2.2 0 1 0 4.4 0a2.2 2.2 0 1 0 -4.4 0M171.3 151.4a2.2 2.2 0 1 0 4.4 0a2.2 2.2 0 1 0 -4.4 0M174.3 150.9a2.2 2.2 0 1 0 4.4 0a2.2 2.2 0 1 0 -4.4 0M177.2 150.6a2.2 2.2 0 1 0 4.4 0a2.2 2.2 0 1 0 -4.4 0M180.1 150.2a2.2 2.2 0 1 0 4.4 0a2.2 2.2 0 1 0 -4.4 0M185.7 149.6a2.2 2.2 0 1 0 4.4 0a2.2 2.2 0 1 0 -4.4 0M188.4 149.4a2.2 2.2 0 1 0 4.4 0a2.2 2.2 0 1 0 -4.4 0M191 149.1a2.2 2.2 0 1 0 4.4 0a2.2 2.2 0 1 0 -4.4 0M193.6 148.9a2.2 2.2 0 1 0 4.4 0a2.2 2.2 0 1 0 -4.4 0M198.7 148.7a2.2 2.2 0 1 0 4.4 0a2.2 2.2 0 1 0 -4.4 0M201.1 148.6a2.2 2.2 0 1 0 4.4 0a2.2 2.2 0 1 0 -4.4 0M205.9 148.4a2.2 2.2 0 1 0 4.4 0a2.2 2.2 0 1 0 -4.4 0M208.2 148.3a2.2 2.2 0 1 0 4.4 0a2.2 2.2 0 1 0 -4.4 0M210.5 148.3a2.2 2.2 0 1 0 4.4 0a2.2 2.2 0 1 0 -4.4 0M212.8 148.2a2.2 2.2 0 1 0 4.4 0a2.2 2.2 0 1 0 -4.4 0M215.1 148.1a2.2 2.2 0 1 0 4.4 0a2.2 2.2 0 1 0 -4.4 0M217.3 148.1a2.2 2.2 0 1 0 4.4 0a2.2 2.2 0 1 0 -4.4 0M219.4 148a2.2 2.2 0 1 0 4.4 0a2.2 2.2 0 1 0 -4.4 0M223.7 147.9a2.2 2.2 0 1 0 4.4 0a2.2 2.2 0 1 0 -4.4 0M225.8 147.8a2.2 2.2 0 1 0 4.4 0a2.2 2.2 0 1 0 -4.4 0M227.9 147.8a2.2 2.2 0 1 0 4.4 0a2.2 2.2 0 1 0 -4.4 0M229.9 147.7a2.2 2.2 0 1 0 4.4 0a2.2 2.2 0 1 0 -4.4 0M231.9 147.6a2.2 2.2 0 1 0 4.4 0a2.2 2.2 0 1 0 -4.4 0M233.9 147.5a2.2 2.2 0 1 0 4.4 0a2.2 2.2 0 1 0 -4.4 0M235.9 147.4a2.2 2.2 0 1 0 4.4 0a2.2 2.2 0 1 0 -4.4 0M239.8 147.3a2.2 2.2 0 1 0 4.4 0a2.2 2.2 0 1 0 -4.4 0M241.7 147.2a2.2 2.2 0 1 0 4.4 0a2.2 2.2 0 1 0 -4.4 0M243.6 147.1a2.2 2.2 0 1 0 4.4 0a2.2 2.2 0 1 0 -4.4 0M245.5 147.1a2.2 2.2 0 1 0 4.4 0a2.2 2.2 0 1 0 -4.4 0M247.4 147a2.2 2.2 0 1 0 4.4 0a2.2 2.2 0 1 0 -4.4 0M249.2 147a2.2 2.2 0 1 0 4.4 0a2.2 2.2 0 1 0 -4.4 0M251 147a2.2 2.2 0 1 0 4.4 0a2.2 2.2 0 1 0 -4.4 0M254.6 146.9a2.2 2.2 0 1 0 4.4 0a2.2 2.2 0 1 0 -4.4 0M256.4 146.9a2.2 2.2 0 1 0 4.4 0a2.2 2.2 0 1 0 -4.4 0M258.2 146.9a2.2 2.2 0 1 0 4.4 0a2.2 2.2 0 1 0 -4.4 0M259.9 146.9a2.2 2.2 0 1 0 4.4 0a2.2 2.2 0 1 0 -4.4 0M263.3 146.8a2.2 2.2 0 1 0 4.4 0a2.2 2.2 0 1 0 -4.4 0M265 146.8a2.2 2.2 0 1 0 4.4 0a2.2 2.2 0 1 0 -4.4 0M268.4 146.8a2.2 2.2 0 1 0 4.4 0a2.2 2.2 0 1 0 -4.4 0M270.1 146.8a2.2 2.2 0 1 0 4.4 0a2.2 2.2 0 1 0 -4.4 0M271.7 146.8a2.2 2.2 0 1 0 4.4 0a2.2 2.2 0 1 0 -4.4 0M273.4 146.8a2.2 2.2 0 1 0 4.4 0a2.2 2.2 0 1 0 -4.4 0M275 146.7a2.2 2.2 0 1 0 4.4 0a2.2 2.2 0 1 0 -4.4 0M276.6 146.7a2.2 2.2 0 1 0 4.4 0a2.2 2.2 0 1 0 -4.4 0M278.2 146.7a2.2 2.2 0 1 0 4.4 0a2.2 2.2 0 1 0 -4.4 0M281.4 146.7a2.2 2.2 0 1 0 4.4 0a2.2 2.2 0 1 0 -4.4 0M282.9 146.7a2.2 2.2 0 1 0 4.4 0a2.2 2.2 0 1 0 -4.4 0M284.5 146.7a2.2 2.2 0 1 0 4.4 0a2.2 2.2 0 1 0 -4.4 0M286 146.7a2.2 2.2 0 1 0 4.4 0a2.2 2.2 0 1 0 -4.4 0M287.6 146.7a2.2 2.2 0 1 0 4.4 0a2.2 2.2 0 1 0 -4.4 0M289.1 146.7a2.2 2.2 0 1 0 4.4 0a2.2 2.2 0 1 0 -4.4 0M290.6 146.6a2.2 2.2 0 1 0 4.4 0a2.2 2.2 0 1 0 -4.4 0M293.6 146.6a2.2 2.2 0 1 0 4.4 0a2.2 2.2 0 1 0 -4.4 0M295.1 146.6a2.2 2.2 0 1 0 4.4 0a2.2 2.2 0 1 0 -4.4 0M296.6 146.6a2.2 2.2 0 1 0 4.4 0a2.2 2.2 0 1 0 -4.4 0M298 146.6a2.2 2.2 0 1 0 4.4 0a2.2 2.2 0 1 0 -4.4 0M299.5 146.6a2.2 2.2 0 1 0 4.4 0a2.2 2.2 0 1 0 -4.4 0M300.9 146.6a2.2 2.2 0 1 0 4.4 0a2.2 2.2 0 1 0 -4.4 0M302.4 146.6a2.2 2.2 0 1 0 4.4 0a2.2 2.2 0 1 0 -4.4 0M305.2 146.6a2.2 2.2 0 1 0 4.4 0a2.2 2.2 0 1 0 -4.4 0M306.7 146.6a2.2 2.2 0 1 0 4.4 0a2.2 2.2 0 1 0 -4.4 0M308.1 146.6a2.2 2.2 0 1 0 4.4 0a2.2 2.2 0 1 0 -4.4 0M309.5 146.6a2.2 2.2 0 1 0 4.4 0a2.2 2.2 0 1 0 -4.4 0M312.3 146.6a2.2 2.2 0 1 0 4.4 0a2.2 2.2 0 1 0 -4.4 0M313.6 146.6a2.2 2.2 0 1 0 4.4 0a2.2 2.2 0 1 0 -4.4 0M316.4 146.5a2.2 2.2 0 1 0 4.4 0a2.2 2.2 0 1 0 -4.4 0M317.7 146.5a2.2 2.2 0 1 0 4.4 0a2.2 2.2 0 1 0 -4.4 0M319.1 146.5a2.2 2.2 0 1 0 4.4 0a2.2 2.2 0 1 0 -4.4 0M320.4 146.5a2.2 2.2 0 1 0 4.4 0a2.2 2.2 0 1 0 -4.4 0M321.8 146.5a2.2 2.2 0 1 0 4.4 0a2.2 2.2 0 1 0 -4.4 0M323.1 146.5a2.2 2.2 0 1 0 4.4 0a2.2 2.2 0 1 0 -4.4 0M324.4 146.5a2.2 2.2 0 1 0 4.4 0a2.2 2.2 0 1 0 -4.4 0M327 146.5a2.2 2.2 0 1 0 4.4 0a2.2 2.2 0 1 0 -4.4 0M328.3 146.5a2.2 2.2 0 1 0 4.4 0a2.2 2.2 0 1 0 -4.4 0M329.6 146.5a2.2 2.2 0 1 0 4.4 0a2.2 2.2 0 1 0 -4.4 0M330.9 146.5a2.2 2.2 0 1 0 4.4 0a2.2 2.2 0 1 0 -4.4 0M332.2 146.5a2.2 2.2 0 1 0 4.4 0a2.2 2.2 0 1 0 -4.4 0M333.5 146.5a2.2 2.2 0 1 0 4.4 0a2.2 2.2 0 1 0 -4.4 0M334.8 146.5a2.2 2.2 0 1 0 4.4 0a2.2 2.2 0 1 0 -4.4 0M338.6 146.5a2.2 2.2 0 1 0 4.4 0a2.2 2.2 0 1 0 -4.4 0M339.8 146.5a2.2 2.2 0 1 0 4.4 0a2.2 2.2 0 1 0 -4.4 0M341.1 146.5a2.2 2.2 0 1 0 4.4 0a2.2 2.2 0 1 0 -4.4 0M342.3 146.5a2.2 2.2 0 1 0 4.4 0a2.2 2.2 0 1 0 -4.4 0M343.5 146.5a2.2 2.2 0 1 0 4.4 0a2.2 2.2 0 1 0 -4.4 0M344.8 146.5a2.2 2.2 0 1 0 4.4 0a2.2 2.2 0 1 0 -4.4 0M347.2 146.4a2.2 2.2 0 1 0 4.4 0a2.2 2.2 0 1 0 -4.4 0M348.4 146.4a2.2 2.2 0 1 0 4.4 0a2.2 2.2 0 1 0 -4.4 0M349.6 146.4a2.2 2.2 0 1 0 4.4 0a2.2 2.2 0 1 0 -4.4 0M350.9 146.4a2.2 2.2 0 1 0 4.4 0a2.2 2.2 0 1 0 -4.4 0M353.2 146.4a2.2 2.2 0 1 0 4.4 0a2.2 2.2 0 1 0 -4.4 0M354.4 146.4a2.2 2.2 0 1 0 4.4 0a2.2 2.2 0 1 0 -4.4 0M356.8 146.4a2.2 2.2 0 1 0 4.4 0a2.2 2.2 0 1 0 -4.4 0M358 146.4a2.2 2.2 0 1 0 4.4 0a2.2 2.2 0 1 0 -4.4 0M359.2 146.4a2.2 2.2 0 1 0 4.4 0a2.2 2.2 0 1 0 -4.4 0M360.3 146.4a2.2 2.2 0 1 0 4.4 0a2.2 2.2 0 1 0 -4.4 0M361.5 146.4a2.2 2.2 0 1 0 4.4 0a2.2 2.2 0 1 0 -4.4 0M362.6 146.4a2.2 2.2 0 1 0 4.4 0a2.2 2.2 0 1 0 -4.4 0M363.8 146.4a2.2 2.2 0 1 0 4.4 0a2.2 2.2 0 1 0 -4.4 0M366.1 146.4a2.2 2.2 0 1 0 4.4 0a2.2 2.2 0 1 0 -4.4 0M367.2 146.4a2.2 2.2 0 1 0 4.4 0a2.2 2.2 0 1 0 -4.4 0M368.4 146.4a2.2 2.2 0 1 0 4.4 0a2.2 2.2 0 1 0 -4.4 0M369.5 146.4a2.2 2.2 0 1 0 4.4 0a2.2 2.2 0 1 0 -4.4 0M370.6 146.4a2.2 2.2 0 1 0 4.4 0a2.2 2.2 0 1 0 -4.4 0M371.8 146.4a2.2 2.2 0 1 0 4.4 0a2.2 2.2 0 1 0 -4.4 0M372.9 146.4a2.2 2.2 0 1 0 4.4 0a2.2 2.2 0 1 0 -4.4 0M375.1 146.4a2.2 2.2 0 1 0 4.4 0a2.2 2.2 0 1 0 -4.4 0M376.2 146.4a2.2 2.2 0 1 0 4.4 0a2.2 2.2 0 1 0 -4.4 0M377.3 146.4a2.2 2.2 0 1 0 4.4 0a2.2 2.2 0 1 0 -4.4 0M378.4 146.4a2.2 2.2 0 1 0 4.4 0a2.2 2.2 0 1 0 -4.4 0M379.5 146.4a2.2 2.2 0 1 0 4.4 0a2.2 2.2 0 1 0 -4.4 0M380.6 146.4a2.2 2.2 0 1 0 4.4 0a2.2 2.2 0 1 0 -4.4 0M381.7 146.4a2.2 2.2 0 1 0 4.4 0a2.2 2.2 0 1 0 -4.4 0M383.9 146.4a2.2 2.2 0 1 0 4.4 0a2.2 2.2 0 1 0 -4.4 0M385 146.4a2.2 2.2 0 1 0 4.4 0a2.2 2.2 0 1 0 -4.4 0M386 146.3a2.2 2.2 0 1 0 4.4 0a2.2 2.2 0 1 0 -4.4 0M387.1 146.3a2.2 2.2 0 1 0 4.4 0a2.2 2.2 0 1 0 -4.4 0M389.3 146.3a2.2 2.2 0 1 0 4.4 0a2.2 2.2 0 1 0 -4.4 0M390.3 146.3a2.2 2.2 0 1 0 4.4 0a2.2 2.2 0 1 0 -4.4 0M392.4 146.3a2.2 2.2 0 1 0 4.4 0a2.2 2.2 0 1 0 -4.4 0M393.5 146.3a2.2 2.2 0 1 0 4.4 0a2.2 2.2 0 1 0 -4.4 0M394.5 146.3a2.2 2.2 0 1 0 4.4 0a2.2 2.2 0 1 0 -4.4 0M395.6 146.3a2.2 2.2 0 1 0 4.4 0a2.2 2.2 0 1 0 -4.4 0M396.6 146.3a2.2 2.2 0 1 0 4.4 0a2.2 2.2 0 1 0 -4.4 0M397.7 146.3a2.2 2.2 0 1 0 4.4 0a2.2 2.2 0 1 0 -4.4 0M398.7 146.3a2.2 2.2 0 1 0 4.4 0a2.2 2.2 0 1 0 -4.4 0M400.8 146.3a2.2 2.2 0 1 0 4.4 0a2.2 2.2 0 1 0 -4.4 0M401.8 146.3a2.2 2.2 0 1 0 4.4 0a2.2 2.2 0 1 0 -4.4 0M402.8 146.3a2.2 2.2 0 1 0 4.4 0a2.2 2.2 0 1 0 -4.4 0M403.8 146.3a2.2 2.2 0 1 0 4.4 0a2.2 2.2 0 1 0 -4.4 0M404.9 146.3a2.2 2.2 0 1 0 4.4 0a2.2 2.2 0 1 0 -4.4 0M405.9 146.3a2.2 2.2 0 1 0 4.4 0a2.2 2.2 0 1 0 -4.4 0M406.9 146.3a2.2 2.2 0 1 0 4.4 0a2.2 2.2 0 1 0 -4.4 0M408.9 146.3a2.2 2.2 0 1 0 4.4 0a2.2 2.2 0 1 0 -4.4 0M409.9 146.3a2.2 2.2 0 1 0 4.4 0a2.2 2.2 0 1 0 -4.4 0M410.9 146.3a2.2 2.2 0 1 0 4.4 0a2.2 2.2 0 1 0 -4.4 0M411.9 146.3a2.2 2.2 0 1 0 4.4 0a2.2 2.2 0 1 0 -4.4 0M412.9 146.3a2.2 2.2 0 1 0 4.4 0a2.2 2.2 0 1 0 -4.4 0M413.9 146.3a2.2 2.2 0 1 0 4.4 0a2.2 2.2 0 1 0 -4.4 0M414.9 146.3a2.2 2.2 0 1 0 4.4 0a2.2 2.2 0 1 0 -4.4 0M416.9 146.3a2.2 2.2 0 1 0 4.4 0a2.2 2.2 0 1 0 -4.4 0M417.8 146.3a2.2 2.2 0 1 0 4.4 0a2.2 2.2 0 1 0 -4.4 0M418.8 146.3a2.2 2.2 0 1 0 4.4 0a2.2 2.2 0 1 0 -4.4 0M419.8 146.3a2.2 2.2 0 1 0 4.4 0a2.2 2.2 0 1 0 -4.4 0M421.7 146.3a2.2 2.2 0 1 0 4.4 0a2.2 2.2 0 1 0 -4.4 0M422.7 146.3a2.2 2.2 0 1 0 4.4 0a2.2 2.2 0 1 0 -4.4 0M424.6 146.3a2.2 2.2 0 1 0 4.4 0a2.2 2.2 0 1 0 -4.4 0M425.6 146.3a2.2 2.2 0 1 0 4.4 0a2.2 2.2 0 1 0 -4.4 0M426.6 146.3a2.2 2.2 0 1 0 4.4 0a2.2 2.2 0 1 0 -4.4 0M427.5 146.3a2.2 2.2 0 1 0 4.4 0a2.2 2.2 0 1 0 -4.4 0M428.5 146.3a2.2 2.2 0 1 0 4.4 0a2.2 2.2 0 1 0 -4.4 0M429.4 146.3a2.2 2.2 0 1 0 4.4 0a2.2 2.2 0 1 0 -4.4 0M430.4 146.3a2.2 2.2 0 1 0 4.4 0a2.2 2.2 0 1 0 -4.4 0M432.3 146.3a2.2 2.2 0 1 0 4.4 0a2.2 2.2 0 1 0 -4.4 0M433.2 146.3a2.2 2.2 0 1 0 4.4 0a2.2 2.2 0 1 0 -4.4 0M434.1 146.3a2.2 2.2 0 1 0 4.4 0a2.2 2.2 0 1 0 -4.4 0" fill="none" stroke="#ff0000" stroke-width="1.35"/>
<path d="M83.9 237.7V238.3M82.3 237.7h3.2M82.3 238.3h3.2M94.9 209.5V210.1M93.3 209.5h3.2M93.3 210.1h3.2M103.4 198.8V199.4M101.8 198.8h3.2M101.8 199.4h3.2M110.6 195.2V195.8M109 195.2h3.2M109 195.8h3.2M116.8 190.8V191.4M115.2 190.8h3.2M115.2 191.4h3.2M122.5 187.7V188.3M120.9 187.7h3.2M120.9 188.3h3.2M132.7 185.2V185.8M131.1 185.2h3.2M131.1 185.8h3.2M137.2 184.5V185.1M135.6 184.5h3.2M135.6 185.1h3.2M141.6 183.8V184.4M140 183.8h3.2M140 184.4h3.2M145.7 183.2V183.8M144.1 183.2h3.2M144.1 183.8h3.2M149.6 182.7V183.3M148 182.7h3.2M148 183.3h3.2M153.4 182.4V183M151.8 182.4h3.2M151.8 183h3.2M157 182.1V182.7M155.4 182.1h3.2M155.4 182.7h3.2M163.9 181.8V182.4M162.3 181.8h3.2M162.3 182.4h3.2M167.2 181.6V182.2M165.6 181.6h3.2M165.6 182.2h3.2M170.4 181.5V182.1M168.8 181.5h3.2M168.8 182.1h3.2M173.5 181.4V182M171.9 181.4h3.2M171.9 182h3.2M176.5 181.3V181.9M174.9 181.3h3.2M174.9 181.9h3.2M179.4 181.2V181.8M177.8 181.2h3.2M177.8 181.8h3.2M182.3 181.1V181.7M180.7 181.1h3.2M180.7 181.7h3.2M187.9 181V181.6M186.3 181h3.2M186.3 181.6h3.2M190.6 180.9V181.5M189 180.9h3.2M189 181.5h3.2M193.2 180.9V181.5M191.6 180.9h3.2M191.6 181.5h3.2M195.8 180.8V181.4M194.2 180.8h3.2M194.2 181.4h3.2M200.9 180.8V181.4M199.3 180.8h3.2M199.3 181.4h3.2M203.3 180.8V181.4M201.7 180.8h3.2M201.7 181.4h3.2M208.1 180.7V181.3M206.5 180.7h3.2M206.5 181.3h3.2M210.4 180.7V181.3M208.8 180.7h3.2M208.8 181.3h3.2M212.7 180.7V181.3M211.1 180.7h3.2M211.1 181.3h3.2M215 180.7V181.3M213.4 180.7h3.2M213.4 181.3h3.2M217.3 180.7V181.3M215.7 180.7h3.2M215.7 181.3h3.2M219.5 180.7V181.3M217.9 180.7h3.2M217.9 181.3h3.2M221.6 180.7V181.3M220 180.7h3.2M220 181.3h3.2M225.9 180.7V181.3M224.3 180.7h3.2M224.3 181.3h3.2M228 180.6V181.2M226.4 180.6h3.2M226.4 181.2h3.2M230.1 180.6V181.2M228.5 180.6h3.2M228.5 181.2h3.2M232.1 180.6V181.2M230.5 180.6h3.2M230.5 181.2h3.2M234.1 180.6V181.2M232.5 180.6h3.2M232.5 181.2h3.2M236.1 180.6V181.2M234.5 180.6h3.2M234.5 181.2h3.2M238.1 180.6V181.2M236.5 180.6h3.2M236.5 181.2h3.2M242 180.6V181.2M240.4 180.6h3.2M240.4 181.2h3.2M243.9 180.6V181.2M242.3 180.6h3.2M242.3 181.2h3.2M245.8 180.6V181.2M244.2 180.6h3.2M244.2 181.2h3.2M247.7 180.6V181.2M246.1 180.6h3.2M246.1 181.2h3.2M249.6 180.6V181.2M248 180.6h3.2M248 181.2h3.2M251.4 180.6V181.2M249.8 180.6h3.2M249.8 181.2h3.2M253.2 180.6V181.2M251.6 180.6h3.2M251.6 181.2h3.2M256.8 180.6V181.2M255.2 180.6h3.2M255.2 181.2h3.2M258.6 180.6V181.2M257 180.6h3.2M257 181.2h3.2M260.4 180.6V181.2M258.8 180.6h3.2M258.8 181.2h3.2M262.1 180.6V181.2M260.5 180.6h3.2M260.5 181.2h3.2M265.5 180.6V181.2M263.9 180.6h3.2M263.9 181.2h3.2M267.2 180.6V181.2M265.6 180.6h3.2M265.6 181.2h3.2M270.6 180.6V181.2M269 180.6h3.2M269 181.2h3.2M272.3 180.6V181.2M270.7 180.6h3.2M270.7 181.2h3.2M273.9 180.6V181.2M272.3 180.6h3.2M272.3 181.2h3.2M275.6 180.6V181.2M274 180.6h3.2M274 181.2h3.2M277.2 180.6V181.2M275.6 180.6h3.2M275.6 181.2h3.2M278.8 180.6V181.2M277.2 180.6h3.2M277.2 181.2h3.2M280.4 180.6V181.2M278.8 180.6h3.2M278.8 181.2h3.2M283.6 180.6V181.2M282 180.6h3.2M282 181.2h3.2M285.1 180.6V181.2M283.5 180.6h3.2M283.5 181.2h3.2M286.7 180.6V181.2M285.1 180.6h3.2M285.1 181.2h3.2M288.2 180.6V181.2M286.6 180.6h3.2M286.6 181.2h3.2M289.8 180.6V181.2M288.2 180.6h3.2M288.2 181.2h3.2M291.3 180.6V181.2M289.7 180.6h3.2M289.7 181.2h3.2M292.8 180.6V181.2M291.2 180.6h3.2M291.2 181.2h3.2M295.8 180.6V181.2M294.2 180.6h3.2M294.2 181.2h3.2M297.3 180.6V181.2M295.7 180.6h3.2M295.7 181.2h3.2M298.8 180.6V181.2M297.2 180.6h3.2M297.2 181.2h3.2M300.2 180.6V181.2M298.6 180.6h3.2M298.6 181.2h3.2M301.7 180.6V181.2M300.1 180.6h3.2M300.1 181.2h3.2M303.1 180.6V181.2M301.5 180.6h3.2M301.5 181.2h3.2M304.6 180.5V181.1M303 180.5h3.2M303 181.1h3.2M307.4 180.5V181.1M305.8 180.5h3.2M305.8 181.1h3.2M308.9 180.5V181.1M307.3 180.5h3.2M307.3 181.1h3.2M310.3 180.5V181.1M308.7 180.5h3.2M308.7 181.1h3.2M311.7 180.5V181.1M310.1 180.5h3.2M310.1 181.1h3.2M314.5 180.5V181.1M312.9 180.5h3.2M312.9 181.1h3.2M315.8 180.5V181.1M314.2 180.5h3.2M314.2 181.1h3.2M318.6 180.5V181.1M317 180.5h3.2M317 181.1h3.2M319.9 180.5V181.1M318.3 180.5h3.2M318.3 181.1h3.2M321.3 180.5V181.1M319.7 180.5h3.2M319.7 181.1h3.2M322.6 180.5V181.1M321 180.5h3.2M321 181.1h3.2M324 180.5V181.1M322.4 180.5h3.2M322.4 181.1h3.2M325.3 180.5V181.1M323.7 180.5h3.2M323.7 181.1h3.2M326.6 180.5V181.1M325 180.5h3.2M325 181.1h3.2M329.2 180.5V181.1M327.6 180.5h3.2M327.6 181.1h3.2M330.5 180.5V181.1M328.9 180.5h3.2M328.9 181.1h3.2M331.8 180.5V181.1M330.2 180.5h3.2M330.2 181.1h3.2M333.1 180.5V181.1M331.5 180.5h3.2M331.5 181.1h3.2M334.4 180.5V181.1M332.8 180.5h3.2M332.8 181.1h3.2M335.7 180.5V181.1M334.1 180.5h3.2M334.1 181.1h3.2M337 180.5V181.1M335.4 180.5h3.2M335.4 181.1h3.2M340.8 180.5V181.1M339.2 180.5h3.2M339.2 181.1h3.2M342 180.5V181.1M340.4 180.5h3.2M340.4 181.1h3.2M343.3 180.5V181.1M341.7 180.5h3.2M341.7 181.1h3.2M344.5 180.5V181.1M342.9 180.5h3.2M342.9 181.1h3.2M345.7 180.5V181.1M344.1 180.5h3.2M344.1 181.1h3.2M347 180.5V181.1M345.4 180.5h3.2M345.4 181.1h3.2M349.4 180.5V181.1M347.8 180.5h3.2M347.8 181.1h3.2M350.6 180.5V181.1M349 180.5h3.2M349 181.1h3.2M351.8 180.5V181.1M350.2 180.5h3.2M350.2 181.1h3.2M353.1 180.5V181.1M351.5 180.5h3.2M351.5 181.1h3.2M355.4 180.5V181.1M353.8 180.5h3.2M353.8 181.1h3.2M356.6 180.5V181.1M355 180.5h3.2M355 181.1h3.2M359 180.5V181.1M357.4 180.5h3.2M357.4 181.1h3.2M360.2 180.5V181.1M358.6 180.5h3.2M358.6 181.1h3.2M361.4 180.5V181.1M359.8 180.5h3.2M359.8 181.1h3.2M362.5 180.5V181.1M360.9 180.5h3.2M360.9 181.1h3.2M363.7 180.5V181.1M362.1 180.5h3.2M362.1 181.1h3.2M364.8 180.5V181.1M363.2 180.5h3.2M363.2 181.1h3.2M366 180.5V181.1M364.4 180.5h3.2M364.4 181.1h3.2M368.3 180.5V181.1M366.7 180.5h3.2M366.7 181.1h3.2M369.4 180.5V181.1M367.8 180.5h3.2M367.8 181.1h3.2M370.6 180.5V181.1M369 180.5h3.2M369 181.1h3.2M371.7 180.5V181.1M370.1 180.5h3.2M370.1 181.1h3.2M372.8 180.5V181.1M371.2 180.5h3.2M371.2 181.1h3.2M374 180.5V181.1M372.4 180.5h3.2M372.4 181.1h3.2M375.1 180.5V181.1M373.5 180.5h3.2M373.5 181.1h3.2M377.3 180.5V181.1M375.7 180.5h3.2M375.7 181.1h3.2M378.4 180.5V181.1M376.8 180.5h3.2M376.8 181.1h3.2M379.5 180.5V181.1M377.9 180.5h3.2M377.9 181.1h3.2M380.6 180.5V181.1M379 180.5h3.2M379 181.1h3.2M381.7 180.5V181.1M380.1 180.5h3.2M380.1 181.1h3.2M382.8 180.5V181.1M381.2 180.5h3.2M381.2 181.1h3.2M383.9 180.5V181.1M382.3 180.5h3.2M382.3 181.1h3.2M386.1 180.5V181.1M384.5 180.5h3.2M384.5 181.1h3.2M387.2 180.5V181.1M385.6 180.5h3.2M385.6 181.1h3.2M388.2 180.5V181.1M386.6 180.5h3.2M386.6 181.1h3.2M389.3 180.5V181.1M387.7 180.5h3.2M387.7 181.1h3.2M391.5 180.5V181.1M389.9 180.5h3.2M389.9 181.1h3.2M392.5 180.5V181.1M390.9 180.5h3.2M390.9 181.1h3.2M394.6 180.5V181.1M393 180.5h3.2M393 181.1h3.2M395.7 180.5V181.1M394.1 180.5h3.2M394.1 181.1h3.2M396.7 180.5V181.1M395.1 180.5h3.2M395.1 181.1h3.2M397.8 180.5V181.1M396.2 180.5h3.2M396.2 181.1h3.2M398.8 180.5V181.1M397.2 180.5h3.2M397.2 181.1h3.2M399.9 180.5V181.1M398.3 180.5h3.2M398.3 181.1h3.2M400.9 180.5V181.1M399.3 180.5h3.2M399.3 181.1h3.2M403 180.5V181.1M401.4 180.5h3.2M401.4 181.1h3.2M404 180.5V181.1M402.4 180.5h3.2M402.4 181.1h3.2M405 180.5V181.1M403.4 180.5h3.2M403.4 181.1h3.2M406 180.5V181.1M404.4 180.5h3.2M404.4 181.1h3.2M407.1 180.5V181.1M405.5 180.5h3.2M405.5 181.1h3.2M408.1 180.5V181.1M406.5 180.5h3.2M406.5 181.1h3.2M409.1 180.5V181.1M407.5 180.5h3.2M407.5 181.1h3.2M411.1 180.5V181.1M409.5 180.5h3.2M409.5 181.1h3.2M412.1 180.5V181.1M410.5 180.5h3.2M410.5 181.1h3.2M413.1 180.5V181.1M411.5 180.5h3.2M411.5 181.1h3.2M414.1 180.5V181.1M412.5 180.5h3.2M412.5 181.1h3.2M415.1 180.5V181.1M413.5 180.5h3.2M413.5 181.1h3.2M416.1 180.5V181.1M414.5 180.5h3.2M414.5 181.1h3.2M417.1 180.5V181.1M415.5 180.5h3.2M415.5 181.1h3.2M419.1 180.5V181.1M417.5 180.5h3.2M417.5 181.1h3.2M420 180.5V181.1M418.4 180.5h3.2M418.4 181.1h3.2M421 180.5V181.1M419.4 180.5h3.2M419.4 181.1h3.2M422 180.5V181.1M420.4 180.5h3.2M420.4 181.1h3.2M423.9 180.5V181.1M422.3 180.5h3.2M422.3 181.1h3.2M424.9 180.5V181.1M423.3 180.5h3.2M423.3 181.1h3.2M426.8 180.5V181.1M425.2 180.5h3.2M425.2 181.1h3.2M427.8 180.5V181.1M426.2 180.5h3.2M426.2 181.1h3.2M428.8 180.5V181.1M427.2 180.5h3.2M427.2 181.1h3.2M429.7 180.5V181.1M428.1 180.5h3.2M428.1 181.1h3.2M430.7 180.5V181.1M429.1 180.5h3.2M429.1 181.1h3.2M431.6 180.5V181.1M430 180.5h3.2M430 181.1h3.2M432.6 180.5V181.1M431 180.5h3.2M431 181.1h3.2M434.5 180.5V181.1M432.9 180.5h3.2M432.9 181.1h3.2M435.4 180.5V181.1M433.8 180.5h3.2M433.8 181.1h3.2M436.3 180.5V181.1M434.7 180.5h3.2M434.7 181.1h3.2" fill="none" stroke="#009a00" stroke-width="1.4"/>
<path d="M81.6 235.7h4.6v4.6h-4.6zM92.6 207.5h4.6v4.6h-4.6zM101.1 196.8h4.6v4.6h-4.6zM108.3 193.2h4.6v4.6h-4.6zM114.5 188.8h4.6v4.6h-4.6zM120.2 185.7h4.6v4.6h-4.6zM130.4 183.2h4.6v4.6h-4.6zM134.9 182.5h4.6v4.6h-4.6zM139.3 181.8h4.6v4.6h-4.6zM143.4 181.2h4.6v4.6h-4.6zM147.3 180.7h4.6v4.6h-4.6zM151.1 180.4h4.6v4.6h-4.6zM154.7 180.1h4.6v4.6h-4.6zM161.6 179.8h4.6v4.6h-4.6zM164.9 179.6h4.6v4.6h-4.6zM168.1 179.5h4.6v4.6h-4.6zM171.2 179.4h4.6v4.6h-4.6zM174.2 179.3h4.6v4.6h-4.6zM177.1 179.2h4.6v4.6h-4.6zM180 179.1h4.6v4.6h-4.6zM185.6 179h4.6v4.6h-4.6zM188.3 178.9h4.6v4.6h-4.6zM190.9 178.9h4.6v4.6h-4.6zM193.5 178.8h4.6v4.6h-4.6zM198.6 178.8h4.6v4.6h-4.6zM201 178.8h4.6v4.6h-4.6zM205.8 178.7h4.6v4.6h-4.6zM208.1 178.7h4.6v4.6h-4.6zM210.4 178.7h4.6v4.6h-4.6zM212.7 178.7h4.6v4.6h-4.6zM215 178.7h4.6v4.6h-4.6zM217.2 178.7h4.6v4.6h-4.6zM219.3 178.7h4.6v4.6h-4.6zM223.6 178.7h4.6v4.6h-4.6zM225.7 178.6h4.6v4.6h-4.6zM227.8 178.6h4.6v4.6h-4.6zM229.8 178.6h4.6v4.6h-4.6zM231.8 178.6h4.6v4.6h-4.6zM233.8 178.6h4.6v4.6h-4.6zM235.8 178.6h4.6v4.6h-4.6zM239.7 178.6h4.6v4.6h-4.6zM241.6 178.6h4.6v4.6h-4.6zM243.5 178.6h4.6v4.6h-4.6zM245.4 178.6h4.6v4.6h-4.6zM247.3 178.6h4.6v4.6h-4.6zM249.1 178.6h4.6v4.6h-4.6zM250.9 178.6h4.6v4.6h-4.6zM254.5 178.6h4.6v4.6h-4.6zM256.3 178.6h4.6v4.6h-4.6zM258.1 178.6h4.6v4.6h-4.6zM259.8 178.6h4.6v4.6h-4.6zM263.2 178.6h4.6v4.6h-4.6zM264.9 178.6h4.6v4.6h-4.6zM268.3 178.6h4.6v4.6h-4.6zM270 178.6h4.6v4.6h-4.6zM271.6 178.6h4.6v4.6h-4.6zM273.3 178.6h4.6v4.6h-4.6zM274.9 178.6h4.6v4.6h-4.6zM276.5 178.6h4.6v4.6h-4.6zM278.1 178.6h4.6v4.6h-4.6zM281.3 178.6h4.6v4.6h-4.6zM282.8 178.6h4.6v4.6h-4.6zM284.4 178.6h4.6v4.6h-4.6zM285.9 178.6h4.6v4.6h-4.6zM287.5 178.6h4.6v4.6h-4.6zM289 178.6h4.6v4.6h-4.6zM290.5 178.6h4.6v4.6h-4.6zM293.5 178.6h4.6v4.6h-4.6zM295 178.6h4.6v4.6h-4.6zM296.5 178.6h4.6v4.6h-4.6zM297.9 178.6h4.6v4.6h-4.6zM299.4 178.6h4.6v4.6h-4.6zM300.8 178.6h4.6v4.6h-4.6zM302.3 178.5h4.6v4.6h-4.6zM305.1 178.5h4.6v4.6h-4.6zM306.6 178.5h4.6v4.6h-4.6zM308 178.5h4.6v4.6h-4.6zM309.4 178.5h4.6v4.6h-4.6zM312.2 178.5h4.6v4.6h-4.6zM313.5 178.5h4.6v4.6h-4.6zM316.3 178.5h4.6v4.6h-4.6zM317.6 178.5h4.6v4.6h-4.6zM319 178.5h4.6v4.6h-4.6zM320.3 178.5h4.6v4.6h-4.6zM321.7 178.5h4.6v4.6h-4.6zM323 178.5h4.6v4.6h-4.6zM324.3 178.5h4.6v4.6h-4.6zM326.9 178.5h4.6v4.6h-4.6zM328.2 178.5h4.6v4.6h-4.6zM329.5 178.5h4.6v4.6h-4.6zM330.8 178.5h4.6v4.6h-4.6zM332.1 178.5h4.6v4.6h-4.6zM333.4 178.5h4.6v4.6h-4.6zM334.7 178.5h4.6v4.6h-4.6zM338.5 178.5h4.6v4.6h-4.6zM339.7 178.5h4.6v4.6h-4.6zM341 178.5h4.6v4.6h-4.6zM342.2 178.5h4.6v4.6h-4.6zM343.4 178.5h4.6v4.6h-4.6zM344.7 178.5h4.6v4.6h-4.6zM347.1 178.5h4.6v4.6h-4.6zM348.3 178.5h4.6v4.6h-4.6zM349.5 178.5h4.6v4.6h-4.6zM350.8 178.5h4.6v4.6h-4.6zM353.1 178.5h4.6v4.6h-4.6zM354.3 178.5h4.6v4.6h-4.6zM356.7 178.5h4.6v4.6h-4.6zM357.9 178.5h4.6v4.6h-4.6zM359.1 178.5h4.6v4.6h-4.6zM360.2 178.5h4.6v4.6h-4.6zM361.4 178.5h4.6v4.6h-4.6zM362.5 178.5h4.6v4.6h-4.6zM363.7 178.5h4.6v4.6h-4.6zM366 178.5h4.6v4.6h-4.6zM367.1 178.5h4.6v4.6h-4.6zM368.3 178.5h4.6v4.6h-4.6zM369.4 178.5h4.6v4.6h-4.6zM370.5 178.5h4.6v4.6h-4.6zM371.7 178.5h4.6v4.6h-4.6zM372.8 178.5h4.6v4.6h-4.6zM375 178.5h4.6v4.6h-4.6zM376.1 178.5h4.6v4.6h-4.6zM377.2 178.5h4.6v4.6h-4.6zM378.3 178.5h4.6v4.6h-4.6zM379.4 178.5h4.6v4.6h-4.6zM380.5 178.5h4.6v4.6h-4.6zM381.6 178.5h4.6v4.6h-4.6zM383.8 178.5h4.6v4.6h-4.6zM384.9 178.5h4.6v4.6h-4.6zM385.9 178.5h4.6v4.6h-4.6zM387 178.5h4.6v4.6h-4.6zM389.2 178.5h4.6v4.6h-4.6zM390.2 178.5h4.6v4.6h-4.6zM392.3 178.5h4.6v4.6h-4.6zM393.4 178.5h4.6v4.6h-4.6zM394.4 178.5h4.6v4.6h-4.6zM395.5 178.5h4.6v4.6h-4.6zM396.5 178.5h4.6v4.6h-4.6zM397.6 178.5h4.6v4.6h-4.6zM398.6 178.5h4.6v4.6h-4.6zM400.7 178.5h4.6v4.6h-4.6zM401.7 178.5h4.6v4.6h-4.6zM402.7 178.5h4.6v4.6h-4.6zM403.7 178.5h4.6v4.6h-4.6zM404.8 178.5h4.6v4.6h-4.6zM405.8 178.5h4.6v4.6h-4.6zM406.8 178.5h4.6v4.6h-4.6zM408.8 178.5h4.6v4.6h-4.6zM409.8 178.5h4.6v4.6h-4.6zM410.8 178.5h4.6v4.6h-4.6zM411.8 178.5h4.6v4.6h-4.6zM412.8 178.5h4.6v4.6h-4.6zM413.8 178.5h4.6v4.6h-4.6zM414.8 178.5h4.6v4.6h-4.6zM416.8 178.5h4.6v4.6h-4.6zM417.7 178.5h4.6v4.6h-4.6zM418.7 178.5h4.6v4.6h-4.6zM419.7 178.5h4.6v4.6h-4.6zM421.6 178.5h4.6v4.6h-4.6zM422.6 178.5h4.6v4.6h-4.6zM424.5 178.5h4.6v4.6h-4.6zM425.5 178.5h4.6v4.6h-4.6zM426.5 178.5h4.6v4.6h-4.6zM427.4 178.5h4.6v4.6h-4.6zM428.4 178.5h4.6v4.6h-4.6zM429.3 178.5h4.6v4.6h-4.6zM430.3 178.5h4.6v4.6h-4.6zM432.2 178.5h4.6v4.6h-4.6zM433.1 178.5h4.6v4.6h-4.6zM434 178.5h4.6v4.6h-4.6z" fill="none" stroke="#009a00" stroke-width="1.5"/>
</g>
<path d="M56.900000000000006 18.5H435.35M56.900000000000006 274.5H435.35" fill="none" stroke="#000" stroke-width="0.75"/><path d="M57.2 18.5V274.5M435.05 18.5V274.5" fill="none" stroke="#000" stroke-width="0.62"/><path d="M132.8 274.5v-2.7M132.8 18.5v2.7M208.3 274.5v-2.7M208.3 18.5v2.7M283.9 274.5v-2.7M283.9 18.5v2.7M359.5 274.5v-2.7M359.5 18.5v2.7M57.2 254.0h2.7M435.05 254.0h-2.7M57.2 151.6h2.7M435.05 151.6h-2.7M57.2 49.2h2.7M435.05 49.2h-2.7" fill="none" stroke="#000" stroke-width="0.6"/>
<text transform="translate(58.7 295.4) scale(1 1.1)" font-size="15.6" text-anchor="middle">0</text><text transform="translate(134.3 295.4) scale(1 1.1)" font-size="15.6" text-anchor="middle">0.2</text><text transform="translate(209.8 295.4) scale(1 1.1)" font-size="15.6" text-anchor="middle">0.4</text><text transform="translate(285.4 295.4) scale(1 1.1)" font-size="15.6" text-anchor="middle">0.6</text><text transform="translate(361.0 295.4) scale(1 1.1)" font-size="15.6" text-anchor="middle">0.8</text><text transform="translate(436.6 295.4) scale(1 1.1)" font-size="15.6" text-anchor="middle">1</text><text transform="translate(48.0 259.6) scale(1 1.1)" font-size="15.6" text-anchor="end">1</text><text transform="translate(48.0 157.2) scale(1 1.1)" font-size="15.6" text-anchor="end">2</text><text transform="translate(48.0 54.8) scale(1 1.1)" font-size="15.6" text-anchor="end">3</text><text transform="translate(225.8 317.5) scale(1 1.1)" font-size="16.8" text-anchor="start"><tspan font-style="italic">r</tspan> [fm]</text><text transform="translate(18.6,188.5) rotate(-90) scale(1 1.1)" font-size="15.1"><tspan font-style="italic">F</tspan><tspan font-weight="bold" font-size="11" dy="-6.8">1</tspan><tspan dy="6.8">(</tspan><tspan font-style="italic">r</tspan>,<tspan font-style="italic">T</tspan>) [GeV]</text><text transform="translate(226.7 43.3) scale(1 1.1)" font-size="15.6" text-anchor="start"><tspan font-style="italic">N</tspan><tspan font-style="italic" font-size="11.5" dy="4.5">f</tspan><tspan dy="-4.5"> = 2 + 1</tspan></text>
<text transform="translate(153.6 31.8) scale(1 1.1)" font-size="15.5" text-anchor="end"><tspan font-style="italic">V</tspan>(<tspan font-style="italic">r</tspan>,<tspan font-style="italic">T</tspan> = 0)</text><path d="M163.1 26.5H202.8M163.1 25.1v2.8M202.8 25.1v2.8" stroke="#000" stroke-width="1.4" fill="none"/><path d="M180.8 24.4l4.2 4.2M180.8 28.6l4.2 -4.2" stroke="#000" stroke-width="1.3" fill="none"/><text transform="translate(123.3 47.7) scale(1 1.1)" font-size="15.3" text-anchor="end"><tspan font-style="italic">T</tspan> = 232</text><text transform="translate(153.5 47.7) scale(1 1.08)" font-size="12.7" text-anchor="end">MeV</text><path d="M163.1 42.5H202.8M163.1 41.1v2.8M202.8 41.1v2.8" stroke="#ff4500" stroke-width="1.4" fill="none"/><path d="M182.9 39.6l2.5 2.9l-2.5 2.9l-2.5 -2.9z" fill="#ff4500"/><text transform="translate(123.3 64.0) scale(1 1.1)" font-size="15.3" text-anchor="end"><tspan font-style="italic">T</tspan> = 279</text><text transform="translate(153.5 64.0) scale(1 1.08)" font-size="12.7" text-anchor="end">MeV</text><path d="M163.1 58.8H202.8M163.1 57.4v2.8M202.8 57.4v2.8" stroke="#ff00ff" stroke-width="1.4" fill="none"/><path d="M179.70000000000002 56.9h6.4l-3.2 5.6z" fill="#ff00ff"/><text transform="translate(123.3 80.2) scale(1 1.1)" font-size="15.3" text-anchor="end"><tspan font-style="italic">T</tspan> = 348</text><text transform="translate(153.5 80.2) scale(1 1.08)" font-size="12.7" text-anchor="end">MeV</text><path d="M163.1 75H202.8M163.1 73.6v2.8M202.8 73.6v2.8" stroke="#0000ff" stroke-width="1.4" fill="none"/><path d="M179.70000000000002 76.9h6.4l-3.2 -5.6z" fill="#0000ff"/><text transform="translate(123.3 96.5) scale(1 1.1)" font-size="15.3" text-anchor="end"><tspan font-style="italic">T</tspan> = 464</text><text transform="translate(153.5 96.5) scale(1 1.08)" font-size="12.7" text-anchor="end">MeV</text><path d="M163.1 91.3H202.8M163.1 89.89999999999999v2.8M202.8 89.89999999999999v2.8" stroke="#ff0000" stroke-width="1.4" fill="none"/><circle cx="182.9" cy="91.3" r="2.2" fill="none" stroke="#ff0000" stroke-width="1.4"/><text transform="translate(123.3 112.7) scale(1 1.1)" font-size="15.3" text-anchor="end"><tspan font-style="italic">T</tspan> = 696</text><text transform="translate(153.5 112.7) scale(1 1.08)" font-size="12.7" text-anchor="end">MeV</text><path d="M163.1 107.5H202.8M163.1 106.1v2.8M202.8 106.1v2.8" stroke="#009a00" stroke-width="1.4" fill="none"/><rect x="180.6" y="105.2" width="4.6" height="4.6" fill="none" stroke="#009a00" stroke-width="1.4"/>
<path d="M462 104.2H445" stroke="#ff4500" stroke-width="1.6" fill="none"/><path d="M442.2 104.2l5.4 -2.2v4.4z" fill="#ff4500" stroke="#ff4500" stroke-width="0.7" stroke-linejoin="round"/><path d="M462 116.0H445" stroke="#ff00ff" stroke-width="1.6" fill="none"/><path d="M442.2 116.0l5.4 -2.2v4.4z" fill="#ff00ff" stroke="#ff00ff" stroke-width="0.7" stroke-linejoin="round"/><path d="M462 128.1H445" stroke="#0000ff" stroke-width="1.6" fill="none"/><path d="M442.2 128.1l5.4 -2.2v4.4z" fill="#0000ff" stroke="#0000ff" stroke-width="0.7" stroke-linejoin="round"/><path d="M462 146.5H445" stroke="#ff0000" stroke-width="1.6" fill="none"/><path d="M442.2 146.5l5.4 -2.2v4.4z" fill="#ff0000" stroke="#ff0000" stroke-width="0.7" stroke-linejoin="round"/><path d="M462 180.9H445" stroke="#009a00" stroke-width="1.6" fill="none"/><path d="M442.2 180.9l5.4 -2.2v4.4z" fill="#009a00" stroke="#009a00" stroke-width="0.7" stroke-linejoin="round"/>
</svg>
</body></html>
